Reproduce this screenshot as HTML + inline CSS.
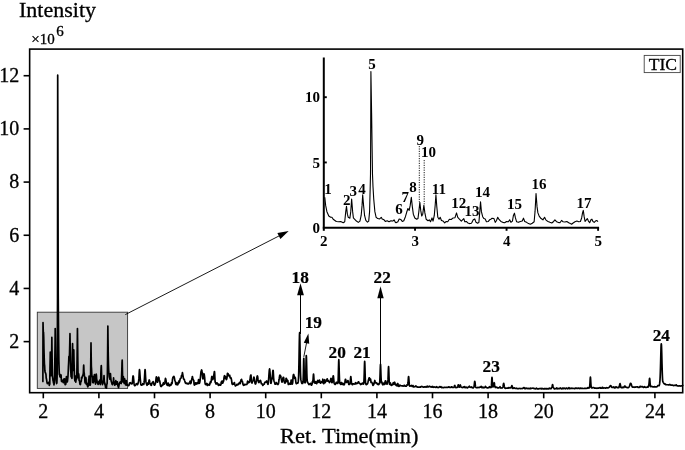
<!DOCTYPE html>
<html><head><meta charset="utf-8"><title>TIC chromatogram</title>
<style>html,body{margin:0;padding:0;background:#fff}svg{display:block}</style></head>
<body>
<svg width="685" height="450" viewBox="0 0 685 450">
<rect width="685" height="450" fill="#fff"/>
<rect x="37.3" y="312.2" width="90.3" height="76.2" fill="#c6c6c6" stroke="#333" stroke-width="0.9"/>
<rect x="29.65" y="49.1" width="653.05" height="343.6" fill="none" stroke="#000" stroke-width="1.6"/>
<line x1="23.6" x2="29.8" y1="341.62" y2="341.62" stroke="#000" stroke-width="1.6"/>
<text x="19.2" y="347.92" font-size="20" text-anchor="end" font-family="'Liberation Serif', 'Times New Roman', serif" stroke="#000" stroke-width="0.3">2</text>
<line x1="23.6" x2="29.8" y1="288.44" y2="288.44" stroke="#000" stroke-width="1.6"/>
<text x="19.2" y="294.74" font-size="20" text-anchor="end" font-family="'Liberation Serif', 'Times New Roman', serif" stroke="#000" stroke-width="0.3">4</text>
<line x1="23.6" x2="29.8" y1="235.26" y2="235.26" stroke="#000" stroke-width="1.6"/>
<text x="19.2" y="241.56" font-size="20" text-anchor="end" font-family="'Liberation Serif', 'Times New Roman', serif" stroke="#000" stroke-width="0.3">6</text>
<line x1="23.6" x2="29.8" y1="182.08" y2="182.08" stroke="#000" stroke-width="1.6"/>
<text x="19.2" y="188.38" font-size="20" text-anchor="end" font-family="'Liberation Serif', 'Times New Roman', serif" stroke="#000" stroke-width="0.3">8</text>
<line x1="23.6" x2="29.8" y1="128.90" y2="128.90" stroke="#000" stroke-width="1.6"/>
<text x="19.2" y="135.20" font-size="20" text-anchor="end" font-family="'Liberation Serif', 'Times New Roman', serif" stroke="#000" stroke-width="0.3">10</text>
<line x1="23.6" x2="29.8" y1="75.72" y2="75.72" stroke="#000" stroke-width="1.6"/>
<text x="19.2" y="82.02" font-size="20" text-anchor="end" font-family="'Liberation Serif', 'Times New Roman', serif" stroke="#000" stroke-width="0.3">12</text>
<line x1="43.30" x2="43.30" y1="392.7" y2="398.3" stroke="#000" stroke-width="1.6"/>
<text x="43.30" y="417.9" font-size="20" text-anchor="middle" font-family="'Liberation Serif', 'Times New Roman', serif" stroke="#000" stroke-width="0.3">2</text>
<line x1="98.90" x2="98.90" y1="392.7" y2="398.3" stroke="#000" stroke-width="1.6"/>
<text x="98.90" y="417.9" font-size="20" text-anchor="middle" font-family="'Liberation Serif', 'Times New Roman', serif" stroke="#000" stroke-width="0.3">4</text>
<line x1="154.50" x2="154.50" y1="392.7" y2="398.3" stroke="#000" stroke-width="1.6"/>
<text x="154.50" y="417.9" font-size="20" text-anchor="middle" font-family="'Liberation Serif', 'Times New Roman', serif" stroke="#000" stroke-width="0.3">6</text>
<line x1="210.10" x2="210.10" y1="392.7" y2="398.3" stroke="#000" stroke-width="1.6"/>
<text x="210.10" y="417.9" font-size="20" text-anchor="middle" font-family="'Liberation Serif', 'Times New Roman', serif" stroke="#000" stroke-width="0.3">8</text>
<line x1="265.70" x2="265.70" y1="392.7" y2="398.3" stroke="#000" stroke-width="1.6"/>
<text x="265.70" y="417.9" font-size="20" text-anchor="middle" font-family="'Liberation Serif', 'Times New Roman', serif" stroke="#000" stroke-width="0.3">10</text>
<line x1="321.30" x2="321.30" y1="392.7" y2="398.3" stroke="#000" stroke-width="1.6"/>
<text x="321.30" y="417.9" font-size="20" text-anchor="middle" font-family="'Liberation Serif', 'Times New Roman', serif" stroke="#000" stroke-width="0.3">12</text>
<line x1="376.90" x2="376.90" y1="392.7" y2="398.3" stroke="#000" stroke-width="1.6"/>
<text x="376.90" y="417.9" font-size="20" text-anchor="middle" font-family="'Liberation Serif', 'Times New Roman', serif" stroke="#000" stroke-width="0.3">14</text>
<line x1="432.50" x2="432.50" y1="392.7" y2="398.3" stroke="#000" stroke-width="1.6"/>
<text x="432.50" y="417.9" font-size="20" text-anchor="middle" font-family="'Liberation Serif', 'Times New Roman', serif" stroke="#000" stroke-width="0.3">16</text>
<line x1="488.10" x2="488.10" y1="392.7" y2="398.3" stroke="#000" stroke-width="1.6"/>
<text x="488.10" y="417.9" font-size="20" text-anchor="middle" font-family="'Liberation Serif', 'Times New Roman', serif" stroke="#000" stroke-width="0.3">18</text>
<line x1="543.70" x2="543.70" y1="392.7" y2="398.3" stroke="#000" stroke-width="1.6"/>
<text x="543.70" y="417.9" font-size="20" text-anchor="middle" font-family="'Liberation Serif', 'Times New Roman', serif" stroke="#000" stroke-width="0.3">20</text>
<line x1="599.30" x2="599.30" y1="392.7" y2="398.3" stroke="#000" stroke-width="1.6"/>
<text x="599.30" y="417.9" font-size="20" text-anchor="middle" font-family="'Liberation Serif', 'Times New Roman', serif" stroke="#000" stroke-width="0.3">22</text>
<line x1="654.90" x2="654.90" y1="392.7" y2="398.3" stroke="#000" stroke-width="1.6"/>
<text x="654.90" y="417.9" font-size="20" text-anchor="middle" font-family="'Liberation Serif', 'Times New Roman', serif" stroke="#000" stroke-width="0.3">24</text>
<text x="19.0" y="16.7" font-size="21.5" textLength="77" lengthAdjust="spacingAndGlyphs" font-family="'Liberation Serif', 'Times New Roman', serif" stroke="#000" stroke-width="0.3">Intensity</text>
<text x="31.2" y="44" font-size="15" font-family="'Liberation Serif', 'Times New Roman', serif" stroke="#000" stroke-width="0.3">×10</text>
<text x="56.2" y="36.1" font-size="15" font-family="'Liberation Serif', 'Times New Roman', serif" stroke="#000" stroke-width="0.3">6</text>
<text x="280.1" y="443.2" font-size="21.5" textLength="138.3" lengthAdjust="spacingAndGlyphs" font-family="'Liberation Serif', 'Times New Roman', serif" stroke="#000" stroke-width="0.3">Ret. Time(min)</text>
<rect x="644.2" y="55.4" width="36" height="17.2" fill="#fff" stroke="#444" stroke-width="0.9"/>
<text x="662.9" y="69.5" font-size="17.6" text-anchor="middle" font-family="'Liberation Serif', 'Times New Roman', serif" stroke="#000" stroke-width="0.3">TIC</text>
<path d="M42.88,381.50 L43.02,322.48 L43.30,333.25 L43.52,332.33 L43.74,337.70 L43.97,349.47 L44.19,357.86 L44.41,363.87 L44.63,365.59 L44.86,370.43 L45.08,372.12 L45.30,372.49 L45.52,372.95 L45.75,373.88 L45.97,374.47 L46.19,377.93 L46.41,378.77 L46.64,379.89 L46.86,381.67 L47.08,382.87 L47.30,383.58 L47.53,382.62 L47.75,382.71 L47.97,382.96 L48.19,382.45 L48.42,383.37 L48.64,382.63 L48.86,383.12 L49.08,383.45 L49.30,385.36 L49.53,384.02 L49.75,384.29 L49.97,368.31 L50.19,357.69 L50.28,352.03 L50.42,360.82 L50.64,368.76 L50.86,375.77 L51.08,374.17 L51.31,375.34 L51.53,365.20 L51.75,345.79 L51.85,337.42 L51.97,347.27 L52.20,364.09 L52.42,375.58 L52.64,377.51 L52.86,379.06 L53.09,380.84 L53.31,381.54 L53.53,383.12 L53.75,382.62 L53.98,384.92 L54.20,383.17 L54.42,380.51 L54.64,374.77 L54.86,359.40 L55.09,343.15 L55.20,328.60 L55.31,337.17 L55.53,354.40 L55.75,367.43 L55.98,377.02 L56.20,379.62 L56.42,382.53 L56.64,383.55 L56.87,382.87 L57.09,376.92 L57.31,360.20 L57.53,298.70 L57.70,75.19 L57.76,102.60 L57.98,192.56 L58.20,292.46 L58.42,321.03 L58.65,342.86 L58.87,360.41 L59.09,367.88 L59.31,374.38 L59.54,373.83 L59.76,376.11 L59.98,376.82 L60.20,377.13 L60.42,376.81 L60.65,375.31 L60.87,374.85 L61.09,375.25 L61.31,379.29 L61.54,381.33 L61.76,379.66 L61.98,381.60 L62.20,381.54 L62.43,381.41 L62.65,380.85 L62.87,381.25 L63.09,381.53 L63.32,382.70 L63.54,381.85 L63.76,379.22 L63.98,380.53 L64.21,382.04 L64.43,379.10 L64.65,378.86 L64.87,381.21 L65.10,384.64 L65.32,384.49 L65.54,384.63 L65.76,384.02 L65.98,382.39 L66.21,378.51 L66.43,376.58 L66.65,378.26 L66.87,380.24 L67.10,380.52 L67.32,381.85 L67.54,380.49 L67.76,378.43 L67.99,375.88 L68.21,372.03 L68.43,366.78 L68.65,362.79 L68.88,356.92 L68.94,356.32 L69.10,356.58 L69.32,359.75 L69.54,352.83 L69.77,343.45 L69.97,333.64 L69.99,334.93 L70.21,348.80 L70.43,360.39 L70.66,369.40 L70.88,372.77 L71.10,376.64 L71.32,376.09 L71.54,377.31 L71.77,378.05 L71.99,378.23 L72.21,364.98 L72.43,350.73 L72.57,343.72 L72.66,349.69 L72.88,362.06 L73.10,370.44 L73.32,368.47 L73.55,362.87 L73.77,349.87 L73.79,350.02 L73.99,360.28 L74.21,368.33 L74.44,376.43 L74.66,378.82 L74.88,381.00 L75.10,380.96 L75.33,379.59 L75.55,379.61 L75.77,382.16 L75.99,380.18 L76.22,375.60 L76.44,377.93 L76.66,378.85 L76.88,372.44 L77.10,358.66 L77.33,338.82 L77.45,328.60 L77.55,337.15 L77.77,357.22 L77.99,371.87 L78.22,376.21 L78.44,377.81 L78.66,373.76 L78.88,375.54 L79.11,380.47 L79.33,380.64 L79.55,380.87 L79.77,383.14 L80.00,384.43 L80.22,384.03 L80.44,384.51 L80.66,382.05 L80.89,381.96 L81.11,381.52 L81.33,380.72 L81.55,377.42 L81.78,378.56 L82.00,377.61 L82.22,377.03 L82.44,376.16 L82.66,375.76 L82.89,375.40 L83.11,374.05 L83.33,373.44 L83.55,367.65 L83.70,365.14 L83.78,366.36 L84.00,372.16 L84.22,373.02 L84.44,376.57 L84.67,376.53 L84.89,381.33 L85.11,382.99 L85.33,379.44 L85.56,378.24 L85.78,377.52 L86.00,378.28 L86.22,384.23 L86.45,382.96 L86.67,383.04 L86.89,383.82 L87.11,384.41 L87.34,385.72 L87.56,386.04 L87.78,386.87 L88.00,386.36 L88.22,385.44 L88.45,383.62 L88.67,379.43 L88.89,379.20 L89.11,376.13 L89.34,379.62 L89.56,381.98 L89.78,385.16 L90.00,384.03 L90.23,385.15 L90.45,383.90 L90.67,369.62 L90.89,352.07 L91.00,342.96 L91.12,352.39 L91.34,366.07 L91.56,369.39 L91.78,374.52 L92.01,376.65 L92.23,376.81 L92.45,376.19 L92.67,382.40 L92.90,382.42 L93.12,382.74 L93.34,381.80 L93.56,381.90 L93.78,379.09 L94.01,377.36 L94.23,375.84 L94.45,374.63 L94.67,376.53 L94.90,376.10 L95.12,377.32 L95.34,382.76 L95.56,384.07 L95.79,380.10 L96.01,377.17 L96.23,374.09 L96.45,375.51 L96.68,379.48 L96.90,379.84 L97.12,381.83 L97.34,382.78 L97.57,383.03 L97.79,383.90 L98.01,384.12 L98.23,384.42 L98.46,382.59 L98.68,383.40 L98.90,381.41 L99.12,381.93 L99.34,382.89 L99.57,381.03 L99.79,380.13 L100.01,380.23 L100.23,384.57 L100.46,383.08 L100.68,381.21 L100.90,372.58 L101.12,367.28 L101.29,365.64 L101.35,366.50 L101.57,374.39 L101.79,380.18 L102.01,382.44 L102.24,383.13 L102.46,384.62 L102.68,382.68 L102.90,382.61 L103.13,382.92 L103.35,381.51 L103.57,382.62 L103.79,380.06 L104.02,375.64 L104.24,380.32 L104.46,382.31 L104.68,384.10 L104.90,383.13 L105.13,385.16 L105.35,385.42 L105.57,387.73 L105.79,387.30 L106.02,386.76 L106.24,387.05 L106.46,388.09 L106.68,385.10 L106.91,383.98 L107.13,383.81 L107.35,376.09 L107.57,359.95 L107.80,332.40 L107.85,326.08 L108.02,339.45 L108.24,355.31 L108.46,364.64 L108.69,370.22 L108.91,373.66 L109.13,373.90 L109.35,377.32 L109.58,377.37 L109.80,379.27 L110.02,377.33 L110.24,375.27 L110.46,373.69 L110.69,377.07 L110.91,379.35 L111.13,380.85 L111.35,381.41 L111.58,382.29 L111.80,382.81 L112.02,384.21 L112.24,382.88 L112.47,384.66 L112.69,383.82 L112.91,382.69 L113.13,383.27 L113.36,382.23 L113.58,377.96 L113.80,380.89 L114.02,382.22 L114.25,383.38 L114.47,383.69 L114.69,385.13 L114.91,384.56 L115.14,384.87 L115.36,382.47 L115.58,382.27 L115.80,380.62 L116.02,382.24 L116.25,384.26 L116.47,383.66 L116.69,383.09 L116.91,382.22 L117.14,382.33 L117.36,381.78 L117.58,383.85 L117.80,385.63 L118.03,386.17 L118.25,385.83 L118.47,387.66 L118.69,386.90 L118.92,385.52 L119.14,384.66 L119.36,383.34 L119.58,383.30 L119.81,382.45 L120.03,382.43 L120.25,381.95 L120.47,383.17 L120.70,382.86 L120.92,383.48 L121.14,383.54 L121.36,381.39 L121.58,377.01 L121.81,371.55 L122.03,362.64 L122.20,360.10 L122.25,361.56 L122.47,371.96 L122.70,381.30 L122.92,381.81 L123.14,378.26 L123.36,376.62 L123.59,378.23 L123.81,381.49 L124.03,382.74 L124.25,383.33 L124.48,379.17 L124.70,378.92 L124.92,380.81 L125.14,382.59 L125.37,382.07 L125.59,384.86 L125.81,381.24 L126.03,381.55 L126.26,380.59 L126.48,381.45 L126.70,385.19 L126.84,385.01 L126.98,384.73 L127.12,384.45 L127.26,384.52 L127.40,384.82 L127.53,385.13 L127.67,385.21 L127.81,385.28 L127.95,385.34 L128.09,385.41 L128.23,385.48 L128.37,385.55 L128.51,385.61 L128.65,385.60 L128.79,385.45 L128.92,385.30 L129.06,385.15 L129.20,384.58 L129.34,383.86 L129.48,383.13 L129.62,382.90 L129.76,383.01 L129.90,383.11 L130.04,383.16 L130.18,383.02 L130.31,382.88 L130.45,382.73 L130.59,382.93 L130.73,383.21 L130.87,383.48 L131.01,383.64 L131.15,383.64 L131.29,383.62 L131.43,383.58 L131.56,383.79 L131.70,383.94 L131.84,384.00 L131.98,383.99 L132.12,383.65 L132.26,383.13 L132.40,382.34 L132.54,381.01 L132.68,379.41 L132.82,377.40 L132.95,376.39 L133.09,375.98 L133.23,376.03 L133.37,376.68 L133.51,377.91 L133.65,379.24 L133.79,380.56 L133.93,382.60 L134.07,383.68 L134.21,384.56 L134.35,385.11 L134.48,385.42 L134.62,385.64 L134.76,385.75 L134.90,385.66 L135.04,385.55 L135.18,385.42 L135.32,385.30 L135.46,385.18 L135.60,385.05 L135.74,384.93 L135.87,384.57 L136.01,384.15 L136.15,383.74 L136.29,383.75 L136.43,383.76 L136.57,383.77 L136.71,383.71 L136.85,383.60 L136.99,383.50 L137.12,383.49 L137.26,383.90 L137.40,384.30 L137.54,384.70 L137.68,384.45 L137.82,384.02 L137.96,383.56 L138.10,383.16 L138.24,382.87 L138.38,382.38 L138.51,381.63 L138.65,380.80 L138.79,379.62 L138.93,378.13 L139.07,375.78 L139.21,373.08 L139.35,370.87 L139.49,369.70 L139.63,370.41 L139.77,371.92 L139.90,373.92 L140.04,375.93 L140.18,377.77 L140.32,379.31 L140.46,380.83 L140.60,382.52 L140.74,383.94 L140.88,384.57 L141.02,384.83 L141.16,385.02 L141.30,385.16 L141.43,385.20 L141.57,385.17 L141.71,385.13 L141.85,385.08 L141.99,384.99 L142.13,384.91 L142.27,384.82 L142.41,384.61 L142.55,384.20 L142.69,383.80 L142.82,383.62 L142.96,383.78 L143.10,383.93 L143.24,384.07 L143.38,384.47 L143.52,384.52 L143.66,384.46 L143.80,384.22 L143.94,383.74 L144.07,382.94 L144.21,381.70 L144.35,379.88 L144.49,377.69 L144.63,375.34 L144.77,373.08 L144.91,370.93 L145.05,369.65 L145.19,370.04 L145.33,372.22 L145.46,374.97 L145.60,377.49 L145.74,379.46 L145.88,381.02 L146.02,381.99 L146.16,382.76 L146.30,383.35 L146.44,383.72 L146.58,384.10 L146.72,384.64 L146.85,384.96 L146.99,385.24 L147.13,385.14 L147.27,384.94 L147.41,384.72 L147.55,384.27 L147.69,383.80 L147.83,383.31 L147.97,382.76 L148.11,383.95 L148.25,384.24 L148.38,384.19 L148.52,383.64 L148.66,382.74 L148.80,381.78 L148.94,380.89 L149.08,380.27 L149.22,380.00 L149.36,380.13 L149.50,380.71 L149.63,381.53 L149.77,382.41 L149.91,383.14 L150.05,383.61 L150.19,383.86 L150.33,383.66 L150.47,384.19 L150.61,384.64 L150.75,384.81 L150.89,384.99 L151.03,385.17 L151.16,385.35 L151.30,385.43 L151.44,385.13 L151.58,384.83 L151.72,383.83 L151.86,383.42 L152.00,383.17 L152.14,382.92 L152.28,382.69 L152.41,382.50 L152.55,382.31 L152.69,382.12 L152.83,381.96 L152.97,381.81 L153.11,381.65 L153.25,381.91 L153.39,382.46 L153.53,383.00 L153.67,383.53 L153.81,383.99 L153.94,384.45 L154.08,384.79 L154.22,384.93 L154.36,385.07 L154.50,385.19 L154.64,385.15 L154.78,384.87 L154.92,384.55 L155.06,384.06 L155.19,383.95 L155.33,383.60 L155.47,383.04 L155.61,382.23 L155.75,381.19 L155.89,379.99 L156.03,378.78 L156.17,377.76 L156.31,377.06 L156.45,376.87 L156.59,377.13 L156.72,377.86 L156.86,378.91 L157.00,380.03 L157.14,381.00 L157.28,381.75 L157.42,382.17 L157.56,382.20 L157.70,381.82 L157.84,380.68 L157.97,380.38 L158.11,379.70 L158.25,378.95 L158.39,378.21 L158.53,377.43 L158.67,377.15 L158.81,377.43 L158.95,377.96 L159.09,378.77 L159.23,379.72 L159.37,380.54 L159.50,380.90 L159.64,381.06 L159.78,380.99 L159.92,382.10 L160.06,383.06 L160.20,383.91 L160.34,384.72 L160.48,385.26 L160.62,385.77 L160.75,386.20 L160.89,386.30 L161.03,386.40 L161.17,386.50 L161.31,386.21 L161.45,385.83 L161.59,385.44 L161.73,385.24 L161.87,385.32 L162.01,385.39 L162.15,385.47 L162.28,385.49 L162.42,385.51 L162.56,385.53 L162.70,385.32 L162.84,384.99 L162.98,384.35 L163.12,383.42 L163.26,383.18 L163.40,382.94 L163.54,382.70 L163.67,383.01 L163.81,383.46 L163.95,383.90 L164.09,384.16 L164.23,384.14 L164.37,384.08 L164.51,383.97 L164.65,383.49 L164.79,382.89 L164.93,382.19 L165.06,381.24 L165.20,380.16 L165.34,379.11 L165.48,378.40 L165.62,378.65 L165.76,379.19 L165.90,379.99 L166.04,380.77 L166.18,381.57 L166.31,382.32 L166.45,383.01 L166.59,383.65 L166.73,384.19 L166.87,384.57 L167.01,384.89 L167.15,385.18 L167.29,385.44 L167.43,385.34 L167.57,385.00 L167.70,384.40 L167.84,383.44 L167.98,383.32 L168.12,383.19 L168.26,383.06 L168.40,383.48 L168.54,384.03 L168.68,384.58 L168.82,384.96 L168.96,385.30 L169.10,385.65 L169.23,385.98 L169.37,385.79 L169.51,385.59 L169.65,385.40 L169.79,385.19 L169.93,385.00 L170.07,384.79 L170.21,384.57 L170.35,384.95 L170.49,385.21 L170.62,385.48 L170.76,385.34 L170.90,385.10 L171.04,384.84 L171.18,384.59 L171.32,384.05 L171.46,383.33 L171.60,382.61 L171.74,383.08 L171.88,383.50 L172.01,383.65 L172.15,383.10 L172.29,381.57 L172.43,379.96 L172.57,378.55 L172.71,378.17 L172.85,377.75 L172.99,377.32 L173.13,377.06 L173.26,376.92 L173.40,376.91 L173.54,376.80 L173.68,376.50 L173.82,376.42 L173.96,376.53 L174.10,376.85 L174.24,377.30 L174.38,377.82 L174.52,378.53 L174.65,379.34 L174.79,380.11 L174.93,380.75 L175.07,381.04 L175.21,381.25 L175.35,381.38 L175.49,382.25 L175.63,383.27 L175.77,384.16 L175.91,384.41 L176.05,384.48 L176.18,384.52 L176.32,384.54 L176.46,384.22 L176.60,383.60 L176.74,382.97 L176.88,383.02 L177.02,383.52 L177.16,384.01 L177.30,384.47 L177.44,384.58 L177.57,384.68 L177.71,384.78 L177.85,384.55 L177.99,384.04 L178.13,383.08 L178.27,382.36 L178.41,382.00 L178.55,381.59 L178.69,381.13 L178.82,381.94 L178.96,382.69 L179.10,382.79 L179.24,382.56 L179.38,382.20 L179.52,381.82 L179.66,381.34 L179.80,380.59 L179.94,379.88 L180.08,379.24 L180.21,378.80 L180.35,378.50 L180.49,378.32 L180.63,378.22 L180.77,378.19 L180.91,378.16 L181.05,378.09 L181.19,377.46 L181.33,376.65 L181.47,375.73 L181.61,375.49 L181.74,375.68 L181.88,375.81 L182.02,375.46 L182.16,374.54 L182.30,373.51 L182.44,372.66 L182.58,373.25 L182.72,374.34 L182.86,375.04 L183.00,375.82 L183.13,376.55 L183.27,377.38 L183.41,378.27 L183.55,378.94 L183.69,379.04 L183.83,379.00 L183.97,379.15 L184.11,379.39 L184.25,379.52 L184.38,379.67 L184.52,380.18 L184.66,380.62 L184.80,380.99 L184.94,381.47 L185.08,381.94 L185.22,382.38 L185.36,382.72 L185.50,382.96 L185.64,383.18 L185.77,383.40 L185.91,383.40 L186.05,383.39 L186.19,383.38 L186.33,383.32 L186.47,383.21 L186.61,383.11 L186.75,383.08 L186.89,383.38 L187.03,383.68 L187.17,383.97 L187.30,383.93 L187.44,383.81 L187.58,383.69 L187.72,383.58 L187.86,383.49 L188.00,383.40 L188.14,383.31 L188.28,383.53 L188.42,383.74 L188.56,383.95 L188.69,383.88 L188.83,383.63 L188.97,383.37 L189.11,383.14 L189.25,382.99 L189.39,382.84 L189.53,382.68 L189.67,382.25 L189.81,381.74 L189.94,381.22 L190.08,381.20 L190.22,381.94 L190.36,382.64 L190.50,383.25 L190.64,383.53 L190.78,383.39 L190.92,383.18 L191.06,382.76 L191.20,382.18 L191.33,381.54 L191.47,380.85 L191.61,380.06 L191.75,379.30 L191.89,378.61 L192.03,377.97 L192.17,377.23 L192.31,376.68 L192.45,376.66 L192.59,377.33 L192.73,378.15 L192.86,379.07 L193.00,379.25 L193.14,379.45 L193.28,379.63 L193.42,379.85 L193.56,380.06 L193.70,380.22 L193.84,380.72 L193.98,382.93 L194.12,384.13 L194.25,384.90 L194.39,385.06 L194.53,385.04 L194.67,384.99 L194.81,384.86 L194.95,384.63 L195.09,384.33 L195.23,383.43 L195.37,383.23 L195.50,383.02 L195.64,382.80 L195.78,382.82 L195.92,383.00 L196.06,383.17 L196.20,383.36 L196.34,383.61 L196.48,383.85 L196.62,384.10 L196.76,383.81 L196.90,383.39 L197.03,382.97 L197.17,382.78 L197.31,382.95 L197.45,383.11 L197.59,383.28 L197.73,383.37 L197.87,383.45 L198.01,383.53 L198.15,382.85 L198.29,381.67 L198.42,380.47 L198.56,379.66 L198.70,380.41 L198.84,381.13 L198.98,381.83 L199.12,382.39 L199.26,382.86 L199.40,383.28 L199.54,383.10 L199.68,382.61 L199.81,381.97 L199.95,381.10 L200.09,380.15 L200.23,379.02 L200.37,377.74 L200.51,376.49 L200.65,375.18 L200.79,373.76 L200.93,372.46 L201.06,371.51 L201.20,370.82 L201.34,370.48 L201.48,370.06 L201.62,369.94 L201.76,370.24 L201.90,370.91 L202.04,371.53 L202.18,372.06 L202.32,372.60 L202.45,374.76 L202.59,376.74 L202.73,378.15 L202.87,378.77 L203.01,378.93 L203.15,378.69 L203.29,377.96 L203.43,376.85 L203.57,375.68 L203.71,374.54 L203.85,373.99 L203.98,373.84 L204.12,374.02 L204.26,374.63 L204.40,375.63 L204.54,376.76 L204.68,377.91 L204.82,380.31 L204.96,382.13 L205.10,383.24 L205.24,383.89 L205.37,384.20 L205.51,384.40 L205.65,384.52 L205.79,384.57 L205.93,384.58 L206.07,384.57 L206.21,384.45 L206.35,384.30 L206.49,383.75 L206.62,383.44 L206.76,383.55 L206.90,383.65 L207.04,383.76 L207.18,384.62 L207.32,385.05 L207.46,385.48 L207.60,385.44 L207.74,385.08 L207.88,384.73 L208.02,384.48 L208.15,384.64 L208.29,384.80 L208.43,384.96 L208.57,384.86 L208.71,384.70 L208.85,384.53 L208.99,384.50 L209.13,384.68 L209.27,384.85 L209.40,385.03 L209.54,384.79 L209.68,384.54 L209.82,384.19 L209.96,383.51 L210.10,382.89 L210.24,382.24 L210.38,381.78 L210.52,382.15 L210.66,382.45 L210.80,382.65 L210.93,382.25 L211.07,381.60 L211.21,380.81 L211.35,379.85 L211.49,378.72 L211.63,377.62 L211.77,376.63 L211.91,376.44 L212.05,376.56 L212.19,377.00 L212.32,377.56 L212.46,378.21 L212.60,378.97 L212.74,379.60 L212.88,379.49 L213.02,379.18 L213.16,378.58 L213.30,378.40 L213.44,378.00 L213.57,377.21 L213.71,376.16 L213.85,375.03 L213.99,373.98 L214.13,373.33 L214.27,372.06 L214.41,371.57 L214.55,371.76 L214.69,373.72 L214.83,376.71 L214.97,379.59 L215.10,381.74 L215.24,382.38 L215.38,382.61 L215.52,382.62 L215.66,383.03 L215.80,383.48 L215.94,383.88 L216.08,384.07 L216.22,383.98 L216.36,383.89 L216.49,383.79 L216.63,383.52 L216.77,383.25 L216.91,382.95 L217.05,382.93 L217.19,383.06 L217.33,383.20 L217.47,383.33 L217.61,383.47 L217.75,383.60 L217.88,383.73 L218.02,384.48 L218.16,384.80 L218.30,385.13 L218.44,385.32 L218.58,385.32 L218.72,385.32 L218.86,385.31 L219.00,385.04 L219.13,384.75 L219.27,384.47 L219.41,384.46 L219.55,384.62 L219.69,384.78 L219.83,384.93 L219.97,385.01 L220.11,385.09 L220.25,385.17 L220.39,385.15 L220.52,385.10 L220.66,385.05 L220.80,384.86 L220.94,384.45 L221.08,383.53 L221.22,382.19 L221.36,381.96 L221.50,381.71 L221.64,381.45 L221.78,381.29 L221.92,381.19 L222.05,381.06 L222.19,381.11 L222.33,381.97 L222.47,382.80 L222.61,383.21 L222.75,382.99 L222.89,382.68 L223.03,382.33 L223.17,381.99 L223.31,381.67 L223.44,381.32 L223.58,380.98 L223.72,380.29 L223.86,379.18 L224.00,377.86 L224.14,376.95 L224.28,376.35 L224.42,375.82 L224.56,375.62 L224.69,376.47 L224.83,377.41 L224.97,378.40 L225.11,378.10 L225.25,377.49 L225.39,376.89 L225.53,376.67 L225.67,377.02 L225.81,377.30 L225.95,377.50 L226.08,378.39 L226.22,379.16 L226.36,379.60 L226.50,379.41 L226.64,379.08 L226.78,378.66 L226.92,378.04 L227.06,376.91 L227.20,375.77 L227.34,373.95 L227.48,373.43 L227.61,373.39 L227.75,373.52 L227.89,373.51 L228.03,373.66 L228.17,373.99 L228.31,374.46 L228.45,374.78 L228.59,375.16 L228.73,375.53 L228.87,375.86 L229.00,375.96 L229.14,375.97 L229.28,375.89 L229.42,375.75 L229.56,375.56 L229.70,375.34 L229.84,376.04 L229.98,377.03 L230.12,377.54 L230.25,377.91 L230.39,378.08 L230.53,377.87 L230.67,377.61 L230.81,377.78 L230.95,377.95 L231.09,378.10 L231.23,378.59 L231.37,379.28 L231.51,379.90 L231.65,380.61 L231.78,381.84 L231.92,383.01 L232.06,383.79 L232.20,384.06 L232.34,384.25 L232.48,384.41 L232.62,384.44 L232.76,384.27 L232.90,383.98 L233.03,383.28 L233.17,383.55 L233.31,383.81 L233.45,384.07 L233.59,384.15 L233.73,384.11 L233.87,384.07 L234.01,383.94 L234.15,383.50 L234.29,383.05 L234.43,382.60 L234.56,383.30 L234.70,384.29 L234.84,384.61 L234.98,384.91 L235.12,385.23 L235.26,385.54 L235.40,385.86 L235.54,385.70 L235.68,385.56 L235.81,385.40 L235.95,385.37 L236.09,385.43 L236.23,385.48 L236.37,385.45 L236.51,385.11 L236.65,384.77 L236.79,384.42 L236.93,384.29 L237.07,384.31 L237.20,384.33 L237.34,384.43 L237.48,384.57 L237.62,384.70 L237.76,384.84 L237.90,384.74 L238.04,384.65 L238.18,384.55 L238.32,384.43 L238.46,384.10 L238.60,383.67 L238.73,383.34 L238.87,383.44 L239.01,383.54 L239.15,383.67 L239.29,383.38 L239.43,382.99 L239.57,382.59 L239.71,382.50 L239.85,382.89 L239.98,383.28 L240.12,383.65 L240.26,383.17 L240.40,382.67 L240.54,382.14 L240.68,381.62 L240.82,381.06 L240.96,380.45 L241.10,379.90 L241.24,379.74 L241.38,379.53 L241.51,379.29 L241.65,379.70 L241.79,380.33 L241.93,381.06 L242.07,381.28 L242.21,381.31 L242.35,381.50 L242.49,381.70 L242.63,382.53 L242.77,383.28 L242.90,384.01 L243.04,384.49 L243.18,384.78 L243.32,385.01 L243.46,385.18 L243.60,385.28 L243.74,385.34 L243.88,385.38 L244.02,385.12 L244.15,384.79 L244.29,384.45 L244.43,384.32 L244.57,384.51 L244.71,384.71 L244.85,384.90 L244.99,384.80 L245.13,384.70 L245.27,384.60 L245.41,384.55 L245.55,384.51 L245.68,384.48 L245.82,384.45 L245.96,384.45 L246.10,384.44 L246.24,384.43 L246.38,384.46 L246.52,384.50 L246.66,384.54 L246.80,384.49 L246.94,384.31 L247.07,383.78 L247.21,383.20 L247.35,382.49 L247.49,381.77 L247.63,381.05 L247.77,381.14 L247.91,381.77 L248.05,382.39 L248.19,382.87 L248.32,382.76 L248.46,382.64 L248.60,382.51 L248.74,382.31 L248.88,382.07 L249.02,381.77 L249.16,381.74 L249.30,382.13 L249.44,382.38 L249.58,382.27 L249.72,381.67 L249.85,380.90 L249.99,380.00 L250.13,378.83 L250.27,377.58 L250.41,376.49 L250.55,375.70 L250.69,375.29 L250.83,375.08 L250.97,375.14 L251.11,376.81 L251.24,378.38 L251.38,379.84 L251.52,381.06 L251.66,381.87 L251.80,382.50 L251.94,382.95 L252.08,383.07 L252.22,382.58 L252.36,381.76 L252.50,381.39 L252.63,381.29 L252.77,381.07 L252.91,380.80 L253.05,380.66 L253.19,380.40 L253.33,380.05 L253.47,379.20 L253.61,378.26 L253.75,377.43 L253.88,377.04 L254.02,377.30 L254.16,377.85 L254.30,378.67 L254.44,379.64 L254.58,380.60 L254.72,381.58 L254.86,382.41 L255.00,383.08 L255.14,383.63 L255.27,384.00 L255.41,384.04 L255.55,383.96 L255.69,383.77 L255.83,383.44 L255.97,382.97 L256.11,381.94 L256.25,381.18 L256.39,381.05 L256.53,380.41 L256.67,379.52 L256.80,378.49 L256.94,377.48 L257.08,376.65 L257.22,376.06 L257.36,375.85 L257.50,376.09 L257.64,376.73 L257.78,377.71 L257.92,378.83 L258.06,379.97 L258.19,380.85 L258.33,381.52 L258.47,381.98 L258.61,382.29 L258.75,382.52 L258.89,382.57 L259.03,382.48 L259.17,382.13 L259.31,381.70 L259.44,381.25 L259.58,381.00 L259.72,380.92 L259.86,380.91 L260.00,380.90 L260.14,380.58 L260.28,380.38 L260.42,380.30 L260.56,380.62 L260.70,381.09 L260.83,381.60 L260.97,382.15 L261.11,382.71 L261.25,383.25 L261.39,383.74 L261.53,383.73 L261.67,383.68 L261.81,383.57 L261.95,383.69 L262.09,383.95 L262.23,384.17 L262.36,384.41 L262.50,384.75 L262.64,385.08 L262.78,385.39 L262.92,385.32 L263.06,385.15 L263.20,384.98 L263.34,384.79 L263.48,384.59 L263.62,384.38 L263.75,384.17 L263.89,384.19 L264.03,384.21 L264.17,384.23 L264.31,384.10 L264.45,383.54 L264.59,382.98 L264.73,382.49 L264.87,382.34 L265.01,382.18 L265.14,382.02 L265.28,382.04 L265.42,382.10 L265.56,382.16 L265.70,382.20 L265.84,382.23 L265.98,382.25 L266.12,382.27 L266.26,381.85 L266.40,381.43 L266.53,381.00 L266.67,380.97 L266.81,381.20 L266.95,381.43 L267.09,381.71 L267.23,382.21 L267.37,382.71 L267.51,383.19 L267.65,383.92 L267.78,384.14 L267.92,384.34 L268.06,384.22 L268.20,383.62 L268.34,382.58 L268.48,380.71 L268.62,379.36 L268.76,377.59 L268.90,375.35 L269.04,373.44 L269.18,371.84 L269.31,370.42 L269.45,369.45 L269.59,368.84 L269.73,369.40 L269.87,370.98 L270.01,372.59 L270.15,374.24 L270.29,375.71 L270.43,377.61 L270.56,380.29 L270.70,382.29 L270.84,383.27 L270.98,383.33 L271.12,383.12 L271.26,382.25 L271.40,381.32 L271.54,380.28 L271.68,379.09 L271.82,378.12 L271.96,378.58 L272.09,378.78 L272.23,378.71 L272.37,376.99 L272.51,374.87 L272.65,372.93 L272.79,371.40 L272.93,370.50 L273.07,370.31 L273.21,370.75 L273.35,372.97 L273.48,375.37 L273.62,377.73 L273.76,379.35 L273.90,380.33 L274.04,381.03 L274.18,381.51 L274.32,381.87 L274.46,382.10 L274.60,382.23 L274.73,382.95 L274.87,383.80 L275.01,384.10 L275.15,384.25 L275.29,384.19 L275.43,384.14 L275.57,384.09 L275.71,383.99 L275.85,383.70 L275.99,383.35 L276.12,383.09 L276.26,382.88 L276.40,382.68 L276.54,382.60 L276.68,383.00 L276.82,383.39 L276.96,383.79 L277.10,384.01 L277.24,384.09 L277.38,384.17 L277.52,384.25 L277.65,384.34 L277.79,384.42 L277.93,384.50 L278.07,384.31 L278.21,384.10 L278.35,383.84 L278.49,383.46 L278.63,382.70 L278.77,381.55 L278.91,380.38 L279.04,379.77 L279.18,378.93 L279.32,377.94 L279.46,377.05 L279.60,376.00 L279.74,375.32 L279.88,375.06 L280.02,375.24 L280.16,375.96 L280.30,377.03 L280.43,376.89 L280.57,376.54 L280.71,376.01 L280.85,376.45 L280.99,377.42 L281.13,378.15 L281.27,378.76 L281.41,379.60 L281.55,380.30 L281.69,380.91 L281.82,381.86 L281.96,382.04 L282.10,382.06 L282.24,381.77 L282.38,381.03 L282.52,380.34 L282.66,379.24 L282.80,378.62 L282.94,378.11 L283.07,377.72 L283.21,377.48 L283.35,377.35 L283.49,377.31 L283.63,377.50 L283.77,378.50 L283.91,379.49 L284.05,380.46 L284.19,381.20 L284.33,381.85 L284.47,382.43 L284.60,382.84 L284.74,383.00 L284.88,383.06 L285.02,382.95 L285.16,382.93 L285.30,382.80 L285.44,382.56 L285.58,381.87 L285.72,380.90 L285.86,379.95 L285.99,378.56 L286.13,378.29 L286.27,378.26 L286.41,378.49 L286.55,379.14 L286.69,379.99 L286.83,380.73 L286.97,381.32 L287.11,381.06 L287.25,380.61 L287.38,380.06 L287.52,380.28 L287.66,380.41 L287.80,380.47 L287.94,381.42 L288.08,382.96 L288.22,384.06 L288.36,384.44 L288.50,384.43 L288.63,384.38 L288.77,384.36 L288.91,384.22 L289.05,384.05 L289.19,383.69 L289.33,383.33 L289.47,383.34 L289.61,383.33 L289.75,383.33 L289.89,383.71 L290.02,384.00 L290.16,384.11 L290.30,384.14 L290.44,384.13 L290.58,384.11 L290.72,384.01 L290.86,382.80 L291.00,381.42 L291.14,380.03 L291.28,380.09 L291.42,380.51 L291.55,380.92 L291.69,381.67 L291.83,382.92 L291.97,383.87 L292.11,384.16 L292.25,384.00 L292.39,383.75 L292.53,383.38 L292.67,382.59 L292.81,380.91 L292.94,378.62 L293.08,376.52 L293.22,375.57 L293.36,374.84 L293.50,374.48 L293.64,374.47 L293.78,374.78 L293.92,375.25 L294.06,376.02 L294.19,377.07 L294.33,377.78 L294.47,378.13 L294.61,378.36 L294.75,378.39 L294.89,378.08 L295.03,377.54 L295.17,377.31 L295.31,377.57 L295.45,378.33 L295.58,379.58 L295.72,380.91 L295.86,382.16 L296.00,382.90 L296.14,383.35 L296.28,383.60 L296.42,383.69 L296.56,383.65 L296.70,383.54 L296.84,383.38 L296.98,383.30 L297.11,383.08 L297.25,382.78 L297.39,382.90 L297.53,383.11 L297.67,383.13 L297.81,383.08 L297.95,382.79 L298.09,382.37 L298.23,381.73 L298.37,380.61 L298.50,378.53 L298.64,375.37 L298.78,370.86 L298.92,364.86 L299.06,357.31 L299.20,348.89 L299.34,340.88 L299.48,334.95 L299.62,332.69 L299.76,334.96 L299.89,341.03 L300.03,349.18 L300.17,357.72 L300.31,365.34 L300.45,371.42 L300.59,375.81 L300.73,378.32 L300.87,379.64 L301.01,380.25 L301.15,380.74 L301.28,381.45 L301.42,382.03 L301.56,382.55 L301.70,382.98 L301.84,383.22 L301.98,383.43 L302.12,383.52 L302.26,383.51 L302.40,383.48 L302.54,383.40 L302.67,383.22 L302.81,382.94 L302.95,382.38 L303.09,381.21 L303.23,378.63 L303.37,373.96 L303.51,367.41 L303.65,361.04 L303.79,358.25 L303.93,360.98 L304.06,367.34 L304.20,373.88 L304.34,378.55 L304.48,381.08 L304.62,382.19 L304.76,382.59 L304.90,382.72 L305.04,382.78 L305.18,382.69 L305.32,382.34 L305.45,381.45 L305.59,379.52 L305.73,376.02 L305.87,370.68 L306.01,364.15 L306.15,358.50 L306.29,355.63 L306.43,357.36 L306.57,362.30 L306.71,368.12 L306.84,373.43 L306.98,377.35 L307.12,379.71 L307.26,381.04 L307.40,381.82 L307.54,382.34 L307.68,382.76 L307.82,382.84 L307.96,382.81 L308.10,382.76 L308.23,383.06 L308.37,383.65 L308.51,383.92 L308.65,384.17 L308.79,384.32 L308.93,384.47 L309.07,384.61 L309.21,384.54 L309.35,384.33 L309.49,384.12 L309.62,383.95 L309.76,383.98 L309.90,384.00 L310.04,384.02 L310.18,383.91 L310.32,383.77 L310.46,383.37 L310.60,383.45 L310.74,383.96 L310.88,384.24 L311.01,384.51 L311.15,384.75 L311.29,384.99 L311.43,385.23 L311.57,385.15 L311.71,384.85 L311.85,384.55 L311.99,384.23 L312.13,383.81 L312.27,382.96 L312.40,381.62 L312.54,381.84 L312.68,382.25 L312.82,382.12 L312.96,380.95 L313.10,379.09 L313.24,376.86 L313.38,374.97 L313.52,374.02 L313.66,374.78 L313.79,376.79 L313.93,379.07 L314.07,380.93 L314.21,382.12 L314.35,382.52 L314.49,382.84 L314.63,382.96 L314.77,382.97 L314.91,383.04 L315.05,383.11 L315.18,383.17 L315.32,383.01 L315.46,382.54 L315.60,382.06 L315.74,381.58 L315.88,381.86 L316.02,382.15 L316.16,382.43 L316.30,382.75 L316.44,383.10 L316.57,383.45 L316.71,383.65 L316.85,383.26 L316.99,382.86 L317.13,382.46 L317.27,381.92 L317.41,381.35 L317.55,380.79 L317.69,380.50 L317.83,380.66 L317.96,380.81 L318.10,380.95 L318.24,381.20 L318.38,381.41 L318.52,381.55 L318.66,381.91 L318.80,382.29 L318.94,382.02 L319.08,381.32 L319.22,380.43 L319.35,380.01 L319.49,380.21 L319.63,380.70 L319.77,381.19 L319.91,381.55 L320.05,381.92 L320.19,382.48 L320.33,382.89 L320.47,383.23 L320.61,382.79 L320.74,382.33 L320.88,381.87 L321.02,381.73 L321.16,381.79 L321.30,381.85 L321.44,381.91 L321.58,381.98 L321.72,382.06 L321.86,382.13 L322.00,382.31 L322.13,382.51 L322.27,382.72 L322.41,382.42 L322.55,381.36 L322.69,380.30 L322.83,379.23 L322.97,379.76 L323.11,380.28 L323.25,380.80 L323.38,381.50 L323.52,382.32 L323.66,383.14 L323.80,383.70 L323.94,383.40 L324.08,383.06 L324.22,382.73 L324.36,381.88 L324.50,380.91 L324.64,379.93 L324.78,379.73 L324.91,380.69 L325.05,381.66 L325.19,382.62 L325.33,382.31 L325.47,381.99 L325.61,381.67 L325.75,381.43 L325.89,381.24 L326.03,380.99 L326.17,380.78 L326.30,380.99 L326.44,381.00 L326.58,380.81 L326.72,380.40 L326.86,379.64 L327.00,379.08 L327.14,378.83 L327.28,378.94 L327.42,379.49 L327.56,379.92 L327.69,380.52 L327.83,380.97 L327.97,381.21 L328.11,381.25 L328.25,381.14 L328.39,380.92 L328.53,380.76 L328.67,381.00 L328.81,381.22 L328.95,381.44 L329.08,381.76 L329.22,382.11 L329.36,382.46 L329.50,382.55 L329.64,382.27 L329.78,381.95 L329.92,381.58 L330.06,381.49 L330.20,381.25 L330.33,380.81 L330.47,380.24 L330.61,379.58 L330.75,378.91 L330.89,378.44 L331.03,378.31 L331.17,378.67 L331.31,379.40 L331.45,380.32 L331.59,381.22 L331.73,381.96 L331.86,382.44 L332.00,382.64 L332.14,382.48 L332.28,382.02 L332.42,381.96 L332.56,381.29 L332.70,380.28 L332.84,378.87 L332.98,377.37 L333.12,376.21 L333.25,375.75 L333.39,376.13 L333.53,377.22 L333.67,378.65 L333.81,380.25 L333.95,381.65 L334.09,382.73 L334.23,383.40 L334.37,383.72 L334.51,383.87 L334.64,383.93 L334.78,384.14 L334.92,384.32 L335.06,384.49 L335.20,384.45 L335.34,384.28 L335.48,384.10 L335.62,383.91 L335.76,383.67 L335.90,383.44 L336.03,382.66 L336.17,382.43 L336.31,382.34 L336.45,382.25 L336.59,382.32 L336.73,382.63 L336.87,382.94 L337.01,383.25 L337.15,383.38 L337.29,383.43 L337.42,383.47 L337.56,383.46 L337.70,383.40 L337.84,383.23 L337.98,382.67 L338.12,381.06 L338.26,377.31 L338.40,371.89 L338.54,366.40 L338.68,361.61 L338.81,359.69 L338.95,361.97 L339.09,367.10 L339.23,372.61 L339.37,376.85 L339.51,380.15 L339.65,382.21 L339.79,383.06 L339.93,383.43 L340.07,383.59 L340.20,383.71 L340.34,383.83 L340.48,384.00 L340.62,384.17 L340.76,384.32 L340.90,384.11 L341.04,383.80 L341.18,383.34 L341.32,382.68 L341.46,382.65 L341.59,382.63 L341.73,382.60 L341.87,383.66 L342.01,384.02 L342.15,384.39 L342.29,384.42 L342.43,384.22 L342.57,384.02 L342.71,383.85 L342.85,383.76 L342.98,383.68 L343.12,383.48 L343.26,383.84 L343.40,384.17 L343.54,384.50 L343.68,384.72 L343.82,384.77 L343.96,384.82 L344.10,384.85 L344.24,384.65 L344.37,384.40 L344.51,384.05 L344.65,383.58 L344.79,382.93 L344.93,382.07 L345.07,381.08 L345.21,380.18 L345.35,379.51 L345.49,379.28 L345.62,379.41 L345.76,379.93 L345.90,380.68 L346.04,381.47 L346.18,382.07 L346.32,382.33 L346.46,382.39 L346.60,382.41 L346.74,382.32 L346.88,382.18 L347.02,382.03 L347.15,381.89 L347.29,381.74 L347.43,381.55 L347.57,381.20 L347.71,380.86 L347.85,380.52 L347.99,380.77 L348.13,381.16 L348.27,381.56 L348.41,382.28 L348.54,383.47 L348.68,384.02 L348.82,384.37 L348.96,384.36 L349.10,384.35 L349.24,384.33 L349.38,384.34 L349.52,384.36 L349.66,384.36 L349.80,384.27 L349.93,383.97 L350.07,383.39 L350.21,382.38 L350.35,380.81 L350.49,378.94 L350.63,377.30 L350.77,376.58 L350.91,377.11 L351.05,378.51 L351.19,380.06 L351.32,381.50 L351.46,382.47 L351.60,383.02 L351.74,383.60 L351.88,384.01 L352.02,384.36 L352.16,384.61 L352.30,384.61 L352.44,384.61 L352.58,384.60 L352.71,384.45 L352.85,384.27 L352.99,384.08 L353.13,383.97 L353.27,383.95 L353.41,383.94 L353.55,383.92 L353.69,383.94 L353.83,383.96 L353.97,383.98 L354.10,383.99 L354.24,383.98 L354.38,383.98 L354.52,383.99 L354.66,384.03 L354.80,384.08 L354.94,384.12 L355.08,383.99 L355.22,383.64 L355.36,383.04 L355.49,382.71 L355.63,382.76 L355.77,382.80 L355.91,382.83 L356.05,383.15 L356.19,383.46 L356.33,383.70 L356.47,383.72 L356.61,383.71 L356.75,383.66 L356.88,383.58 L357.02,383.43 L357.16,383.25 L357.30,383.05 L357.44,383.03 L357.58,383.05 L357.72,383.09 L357.86,382.96 L358.00,382.58 L358.13,382.24 L358.27,382.00 L358.41,381.88 L358.55,381.84 L358.69,381.86 L358.83,382.10 L358.97,382.49 L359.11,382.89 L359.25,383.22 L359.39,383.28 L359.53,383.31 L359.66,383.31 L359.80,383.44 L359.94,383.58 L360.08,383.68 L360.22,383.84 L360.36,384.09 L360.50,384.32 L360.64,384.54 L360.78,384.46 L360.92,384.36 L361.05,384.26 L361.19,384.20 L361.33,384.15 L361.47,384.11 L361.61,384.05 L361.75,383.94 L361.89,383.67 L362.03,383.32 L362.17,383.21 L362.31,383.16 L362.44,383.10 L362.58,383.24 L362.72,383.67 L362.86,383.87 L363.00,383.96 L363.14,384.04 L363.28,384.10 L363.42,384.12 L363.56,383.93 L363.70,383.46 L363.83,382.53 L363.97,380.73 L364.11,377.65 L364.25,373.16 L364.39,367.86 L364.53,363.25 L364.67,361.32 L364.81,363.07 L364.95,367.56 L365.09,372.85 L365.22,377.35 L365.36,380.43 L365.50,382.33 L365.64,383.37 L365.78,383.94 L365.92,384.25 L366.06,384.44 L366.20,384.58 L366.34,384.65 L366.48,384.55 L366.61,384.42 L366.75,384.27 L366.89,384.22 L367.03,384.16 L367.17,384.06 L367.31,383.92 L367.45,383.73 L367.59,383.49 L367.73,383.18 L367.87,382.65 L368.00,382.06 L368.14,381.42 L368.28,380.82 L368.42,380.26 L368.56,379.72 L368.70,379.22 L368.84,378.73 L368.98,378.22 L369.12,377.86 L369.25,377.78 L369.39,377.88 L369.53,378.10 L369.67,378.52 L369.81,379.14 L369.95,379.78 L370.09,380.42 L370.23,380.03 L370.37,379.60 L370.51,379.11 L370.65,379.58 L370.78,380.68 L370.92,381.71 L371.06,382.49 L371.20,382.39 L371.34,382.25 L371.48,382.08 L371.62,382.26 L371.76,382.50 L371.90,382.74 L372.04,382.92 L372.17,383.02 L372.31,383.12 L372.45,383.22 L372.59,384.33 L372.73,384.77 L372.87,385.21 L373.01,385.31 L373.15,385.18 L373.29,385.05 L373.43,384.90 L373.56,384.69 L373.70,384.49 L373.84,384.28 L373.98,383.83 L374.12,383.35 L374.26,382.87 L374.40,382.34 L374.54,381.72 L374.68,381.10 L374.82,380.48 L374.95,381.18 L375.09,381.88 L375.23,382.59 L375.37,382.79 L375.51,382.66 L375.65,382.54 L375.79,382.47 L375.93,382.62 L376.07,382.77 L376.20,382.91 L376.34,382.94 L376.48,382.94 L376.62,382.93 L376.76,383.02 L376.90,383.27 L377.04,383.51 L377.18,383.76 L377.32,384.03 L377.46,384.29 L377.60,384.38 L377.73,384.40 L377.87,384.37 L378.01,384.33 L378.15,384.33 L378.29,384.43 L378.43,384.54 L378.57,384.63 L378.71,384.47 L378.85,384.23 L378.99,383.61 L379.12,383.38 L379.26,383.88 L379.40,383.89 L379.54,383.63 L379.68,382.57 L379.82,380.81 L379.96,377.80 L380.10,373.89 L380.24,369.63 L380.38,366.00 L380.51,364.43 L380.65,366.44 L380.79,370.18 L380.93,374.55 L381.07,377.94 L381.21,380.37 L381.35,381.94 L381.49,382.65 L381.63,382.65 L381.77,382.42 L381.90,382.09 L382.04,382.69 L382.18,383.26 L382.32,383.83 L382.46,384.32 L382.60,384.55 L382.74,384.71 L382.88,384.80 L383.02,384.68 L383.16,384.56 L383.29,384.12 L383.43,383.79 L383.57,383.49 L383.71,383.19 L383.85,383.04 L383.99,383.12 L384.13,383.20 L384.27,383.27 L384.41,383.68 L384.55,384.08 L384.68,384.48 L384.82,384.01 L384.96,382.95 L385.10,381.88 L385.24,381.02 L385.38,380.96 L385.52,380.90 L385.66,380.84 L385.80,381.46 L385.94,382.24 L386.07,383.01 L386.21,383.53 L386.35,383.68 L386.49,383.82 L386.63,383.96 L386.77,384.01 L386.91,384.06 L387.05,384.10 L387.19,383.74 L387.33,383.12 L387.46,382.43 L387.60,381.83 L387.74,381.81 L387.88,381.11 L388.02,379.40 L388.16,375.90 L388.30,371.60 L388.44,367.87 L388.58,366.48 L388.72,368.35 L388.85,372.16 L388.99,376.38 L389.13,379.89 L389.27,382.28 L389.41,383.67 L389.55,384.26 L389.69,384.35 L389.83,383.89 L389.97,383.45 L390.11,383.28 L390.24,383.10 L390.38,382.92 L390.52,383.41 L390.66,384.06 L390.80,384.70 L390.94,385.04 L391.08,385.15 L391.22,385.26 L391.36,385.37 L391.50,385.23 L391.63,385.10 L391.77,384.71 L391.91,384.60 L392.05,384.74 L392.19,384.88 L392.33,384.94 L392.47,384.74 L392.61,384.53 L392.75,384.33 L392.89,383.89 L393.02,383.39 L393.16,382.89 L393.30,382.67 L393.44,382.85 L393.58,383.03 L393.72,383.21 L393.86,383.60 L394.00,383.98 L394.14,384.37 L394.28,384.09 L394.41,383.38 L394.55,382.68 L394.69,382.22 L394.83,382.73 L394.97,383.23 L395.11,383.73 L395.25,383.90 L395.39,384.00 L395.53,384.09 L395.67,384.32 L395.80,384.75 L395.94,385.18 L396.08,385.48 L396.22,385.51 L396.36,385.55 L396.50,385.59 L396.64,385.65 L396.78,385.74 L396.92,385.82 L397.06,385.83 L397.19,385.54 L397.33,384.60 L397.47,383.62 L397.61,383.50 L397.75,383.60 L397.89,383.70 L398.03,384.15 L398.17,385.10 L398.31,385.72 L398.45,386.01 L398.58,386.12 L398.72,386.22 L398.86,386.33 L399.00,386.34 L399.14,386.29 L399.28,386.24 L399.42,386.15 L399.56,385.93 L399.70,385.71 L399.84,385.02 L399.97,385.06 L400.11,385.30 L400.25,385.54 L400.39,385.69 L400.53,385.69 L400.67,385.70 L400.81,385.70 L400.95,385.72 L401.09,385.73 L401.23,385.74 L401.36,385.76 L401.50,385.77 L401.64,385.79 L401.78,385.84 L401.92,385.89 L402.06,385.95 L402.20,386.00 L402.34,385.98 L402.48,385.94 L402.62,385.90 L402.75,385.91 L402.89,385.99 L403.03,386.08 L403.17,386.16 L403.31,386.09 L403.45,386.02 L403.59,385.93 L403.73,385.72 L403.87,385.56 L404.00,385.40 L404.14,385.27 L404.28,385.29 L404.42,385.31 L404.56,385.32 L404.70,385.52 L404.84,385.76 L404.98,385.99 L405.12,386.09 L405.26,386.14 L405.40,386.20 L405.53,386.25 L405.67,386.21 L405.81,386.16 L405.95,386.12 L406.09,386.10 L406.23,386.10 L406.37,386.10 L406.51,386.06 L406.65,385.67 L406.79,385.28 L406.92,384.89 L407.06,384.89 L407.20,384.96 L407.34,385.01 L407.48,385.05 L407.62,385.03 L407.76,384.76 L407.90,384.09 L408.04,382.70 L408.18,380.83 L408.31,378.79 L408.45,377.13 L408.59,376.49 L408.73,377.19 L408.87,378.91 L409.01,381.02 L409.15,382.94 L409.29,384.40 L409.43,385.30 L409.57,385.79 L409.70,386.03 L409.84,386.14 L409.98,386.17 L410.12,386.06 L410.26,385.95 L410.40,385.92 L410.54,385.89 L410.68,385.86 L410.82,385.82 L410.95,385.77 L411.09,385.72 L411.23,385.66 L411.37,385.55 L411.51,385.44 L411.65,385.34 L411.79,385.63 L411.93,386.02 L412.07,386.39 L412.21,386.56 L412.35,386.48 L412.48,386.39 L412.62,386.31 L412.76,386.06 L412.90,385.83 L413.04,385.59 L413.18,385.82 L413.32,386.36 L413.46,386.72 L413.60,386.85 L413.74,386.85 L413.87,386.84 L414.01,386.84 L414.15,386.81 L414.29,386.77 L414.43,386.74 L414.57,386.71 L414.71,386.70 L414.85,386.66 L414.99,386.61 L415.12,386.55 L415.26,386.43 L415.40,386.26 L415.54,386.10 L415.68,385.99 L415.82,385.95 L415.96,386.05 L416.10,386.22 L416.24,386.41 L416.38,386.56 L416.52,386.68 L416.65,386.75 L416.79,386.80 L416.93,386.83 L417.07,386.85 L417.21,386.87 L417.35,386.89 L417.49,387.01 L417.63,387.12 L417.77,387.22 L417.91,387.26 L418.04,387.24 L418.18,387.22 L418.32,387.20 L418.46,387.17 L418.60,387.14 L418.74,387.10 L418.88,387.12 L419.02,387.15 L419.16,387.18 L419.30,387.20 L419.43,387.19 L419.57,387.19 L419.71,387.18 L419.85,387.12 L419.99,387.06 L420.13,386.96 L420.27,386.92 L420.41,386.99 L420.55,387.04 L420.69,387.04 L420.82,386.93 L420.96,386.78 L421.10,386.63 L421.24,386.55 L421.38,386.50 L421.52,386.44 L421.66,386.43 L421.80,386.48 L421.94,386.54 L422.08,386.59 L422.21,386.60 L422.35,386.62 L422.49,386.63 L422.63,386.71 L422.77,386.84 L422.91,386.97 L423.05,387.07 L423.19,387.12 L423.33,387.17 L423.47,387.22 L423.60,387.19 L423.74,387.14 L423.88,387.09 L424.02,387.03 L424.16,386.95 L424.30,386.87 L424.44,386.79 L424.58,386.90 L424.72,387.01 L424.86,387.09 L424.99,387.09 L425.13,387.07 L425.27,387.02 L425.41,386.96 L425.55,386.88 L425.69,386.80 L425.83,386.72 L425.97,386.82 L426.11,386.97 L426.25,387.10 L426.38,387.10 L426.52,386.92 L426.66,386.71 L426.80,386.51 L426.94,386.37 L427.08,386.22 L427.22,386.08 L427.36,386.19 L427.50,386.46 L427.64,386.73 L427.77,386.95 L427.91,386.95 L428.05,386.94 L428.19,386.94 L428.33,386.90 L428.47,386.86 L428.61,386.81 L428.75,386.71 L428.89,386.52 L429.03,386.33 L429.16,386.14 L429.30,386.24 L429.44,386.34 L429.58,386.43 L429.72,386.48 L429.86,386.50 L430.00,386.51 L430.14,386.55 L430.28,386.71 L430.42,386.85 L430.55,386.96 L430.69,386.89 L430.83,386.80 L430.97,386.71 L431.11,386.68 L431.25,386.75 L431.39,386.83 L431.53,386.92 L431.67,387.03 L431.81,387.14 L431.94,387.23 L432.08,387.21 L432.22,387.08 L432.36,386.72 L432.50,386.45 L432.64,386.51 L432.78,386.57 L432.92,386.64 L433.06,386.90 L433.19,387.18 L433.33,387.28 L433.47,387.31 L433.61,387.25 L433.75,387.18 L433.89,386.98 L434.03,387.00 L434.17,387.03 L434.31,387.05 L434.45,387.04 L434.59,387.00 L434.72,386.96 L434.86,386.94 L435.00,387.01 L435.14,387.07 L435.28,387.14 L435.42,387.24 L435.56,387.31 L435.70,387.38 L435.84,387.40 L435.98,387.35 L436.11,387.30 L436.25,387.26 L436.39,387.16 L436.53,386.96 L436.67,386.75 L436.81,386.83 L436.95,387.08 L437.09,387.25 L437.23,387.33 L437.37,387.37 L437.50,387.42 L437.64,387.47 L437.78,387.49 L437.92,387.52 L438.06,387.54 L438.20,387.54 L438.34,387.53 L438.48,387.51 L438.62,387.50 L438.76,387.42 L438.89,387.34 L439.03,387.26 L439.17,387.09 L439.31,386.89 L439.45,386.70 L439.59,386.58 L439.73,386.72 L439.87,386.87 L440.01,387.01 L440.14,387.05 L440.28,387.06 L440.42,387.08 L440.56,387.02 L440.70,386.86 L440.84,386.69 L440.98,386.53 L441.12,386.87 L441.26,387.21 L441.40,387.47 L441.54,387.54 L441.67,387.59 L441.81,387.63 L441.95,387.66 L442.09,387.62 L442.23,387.58 L442.37,387.49 L442.51,387.45 L442.65,387.44 L442.79,387.43 L442.93,387.48 L443.06,387.52 L443.20,387.56 L443.34,387.61 L443.48,387.59 L443.62,387.58 L443.76,387.57 L443.90,387.53 L444.04,387.46 L444.18,387.39 L444.32,387.34 L444.45,387.34 L444.59,387.34 L444.73,387.34 L444.87,387.39 L445.01,387.44 L445.15,387.50 L445.29,387.52 L445.43,387.49 L445.57,387.47 L445.71,387.44 L445.84,387.44 L445.98,387.43 L446.12,387.42 L446.26,387.40 L446.40,387.37 L446.54,387.34 L446.68,387.29 L446.82,387.33 L446.96,387.35 L447.09,387.36 L447.23,387.37 L447.37,387.38 L447.51,387.39 L447.65,387.39 L447.79,387.39 L447.93,387.39 L448.07,387.39 L448.21,387.29 L448.35,387.10 L448.49,386.90 L448.62,386.80 L448.76,386.77 L448.90,386.74 L449.04,386.75 L449.18,386.94 L449.32,387.13 L449.46,387.33 L449.60,387.32 L449.74,387.27 L449.88,387.23 L450.01,387.26 L450.15,387.38 L450.29,387.42 L450.43,387.47 L450.57,387.45 L450.71,387.42 L450.85,387.40 L450.99,387.35 L451.13,387.21 L451.27,387.06 L451.40,386.93 L451.54,386.86 L451.68,386.80 L451.82,386.74 L451.96,386.90 L452.10,387.12 L452.24,387.34 L452.38,387.40 L452.52,387.41 L452.66,387.41 L452.79,387.41 L452.93,387.41 L453.07,387.41 L453.21,387.40 L453.35,387.43 L453.49,387.47 L453.63,387.50 L453.77,387.50 L453.91,387.38 L454.04,387.19 L454.18,386.88 L454.32,386.49 L454.46,386.03 L454.60,385.63 L454.74,385.46 L454.88,385.60 L455.02,385.98 L455.16,386.40 L455.30,386.86 L455.44,387.19 L455.57,387.40 L455.71,387.52 L455.85,387.58 L455.99,387.63 L456.13,387.65 L456.27,387.58 L456.41,387.50 L456.55,387.43 L456.69,387.39 L456.83,387.36 L456.96,387.28 L457.10,387.25 L457.24,387.28 L457.38,387.29 L457.52,387.21 L457.66,386.93 L457.80,386.46 L457.94,385.83 L458.08,385.26 L458.22,384.87 L458.35,384.79 L458.49,385.07 L458.63,385.59 L458.77,386.19 L458.91,386.70 L459.05,387.02 L459.19,387.17 L459.33,387.20 L459.47,387.17 L459.61,387.06 L459.74,386.79 L459.88,386.36 L460.02,385.75 L460.16,385.23 L460.30,385.00 L460.44,385.18 L460.58,385.65 L460.72,386.21 L460.86,386.65 L461.00,386.89 L461.13,386.99 L461.27,386.99 L461.41,387.09 L461.55,387.21 L461.69,387.33 L461.83,387.40 L461.97,387.41 L462.11,387.43 L462.25,387.44 L462.39,387.49 L462.52,387.52 L462.66,387.55 L462.80,387.54 L462.94,387.50 L463.08,387.39 L463.22,387.25 L463.36,387.11 L463.50,386.97 L463.64,386.83 L463.78,386.94 L463.91,387.11 L464.05,387.28 L464.19,387.29 L464.33,387.06 L464.47,386.82 L464.61,386.59 L464.75,386.87 L464.89,387.16 L465.03,387.44 L465.17,387.54 L465.30,387.54 L465.44,387.55 L465.58,387.55 L465.72,387.49 L465.86,387.42 L466.00,387.35 L466.14,387.30 L466.28,387.25 L466.42,387.21 L466.56,387.30 L466.69,387.57 L466.83,387.66 L466.97,387.76 L467.11,387.79 L467.25,387.82 L467.39,387.86 L467.53,387.81 L467.67,387.71 L467.81,387.60 L467.94,387.40 L468.08,387.29 L468.22,387.18 L468.36,387.07 L468.50,387.01 L468.64,386.96 L468.78,386.91 L468.92,386.81 L469.06,386.63 L469.20,386.45 L469.34,386.27 L469.47,386.53 L469.61,386.79 L469.75,387.06 L469.89,387.20 L470.03,387.25 L470.17,387.31 L470.31,387.34 L470.45,387.26 L470.59,387.19 L470.73,387.12 L470.86,387.11 L471.00,387.12 L471.14,387.13 L471.28,387.11 L471.42,387.05 L471.56,386.99 L471.70,386.93 L471.84,387.24 L471.98,387.56 L472.12,387.67 L472.25,387.72 L472.39,387.74 L472.53,387.76 L472.67,387.79 L472.81,387.86 L472.95,387.92 L473.09,387.98 L473.23,387.88 L473.37,387.72 L473.51,387.55 L473.64,387.40 L473.78,387.24 L473.92,386.93 L474.06,386.40 L474.20,385.44 L474.34,384.23 L474.48,382.92 L474.62,381.84 L474.76,381.34 L474.89,381.56 L475.03,382.43 L475.17,383.82 L475.31,385.12 L475.45,386.16 L475.59,386.80 L475.73,387.20 L475.87,387.43 L476.01,387.53 L476.15,387.59 L476.29,387.63 L476.42,387.66 L476.56,387.69 L476.70,387.72 L476.84,387.74 L476.98,387.74 L477.12,387.73 L477.26,387.72 L477.40,387.70 L477.54,387.66 L477.68,387.53 L477.81,387.37 L477.95,387.37 L478.09,387.41 L478.23,387.45 L478.37,387.48 L478.51,387.50 L478.65,387.53 L478.79,387.56 L478.93,387.55 L479.07,387.55 L479.20,387.54 L479.34,387.46 L479.48,387.34 L479.62,387.21 L479.76,387.12 L479.90,387.16 L480.04,387.19 L480.18,387.22 L480.32,387.25 L480.46,387.24 L480.59,387.19 L480.73,387.02 L480.87,386.73 L481.01,386.48 L481.15,386.34 L481.29,386.54 L481.43,386.85 L481.57,387.19 L481.71,387.44 L481.84,387.59 L481.98,387.69 L482.12,387.73 L482.26,387.61 L482.40,387.35 L482.54,387.08 L482.68,387.11 L482.82,387.21 L482.96,387.31 L483.10,387.44 L483.24,387.61 L483.37,387.74 L483.51,387.79 L483.65,387.73 L483.79,387.55 L483.93,387.36 L484.07,387.34 L484.21,387.43 L484.35,387.52 L484.49,387.60 L484.62,387.62 L484.76,387.53 L484.90,387.39 L485.04,387.09 L485.18,386.77 L485.32,386.38 L485.46,386.30 L485.60,386.56 L485.74,386.85 L485.88,387.11 L486.02,387.24 L486.15,387.31 L486.29,387.35 L486.43,387.42 L486.57,387.52 L486.71,387.61 L486.85,387.71 L486.99,387.78 L487.13,387.82 L487.27,387.85 L487.41,387.89 L487.54,387.92 L487.68,387.96 L487.82,387.95 L487.96,387.87 L488.10,387.79 L488.24,387.63 L488.38,387.68 L488.52,387.71 L488.66,387.69 L488.79,387.62 L488.93,387.50 L489.07,387.30 L489.21,387.06 L489.35,386.82 L489.49,386.71 L489.63,386.78 L489.77,386.98 L489.91,387.21 L490.05,387.41 L490.19,387.51 L490.32,387.53 L490.46,387.50 L490.60,387.44 L490.74,387.51 L490.88,387.53 L491.02,387.45 L491.16,387.21 L491.30,386.62 L491.44,385.42 L491.58,383.41 L491.71,380.81 L491.85,378.39 L491.99,377.40 L492.13,378.41 L492.27,380.82 L492.41,383.41 L492.55,385.37 L492.69,386.46 L492.83,386.81 L492.97,386.81 L493.10,386.81 L493.24,386.70 L493.38,386.48 L493.52,386.23 L493.66,385.81 L493.80,385.08 L493.94,384.13 L494.08,383.15 L494.22,382.75 L494.36,383.12 L494.49,383.96 L494.63,384.93 L494.77,385.73 L494.91,386.35 L495.05,386.90 L495.19,387.26 L495.33,387.52 L495.47,387.47 L495.61,387.39 L495.75,387.31 L495.88,387.23 L496.02,387.14 L496.16,387.06 L496.30,387.02 L496.44,387.18 L496.58,387.34 L496.72,387.50 L496.86,387.51 L497.00,387.49 L497.14,387.46 L497.27,387.52 L497.41,387.71 L497.55,387.89 L497.69,387.99 L497.83,387.98 L497.97,387.97 L498.11,387.93 L498.25,387.91 L498.39,387.91 L498.53,387.91 L498.66,387.90 L498.80,387.85 L498.94,387.80 L499.08,387.75 L499.22,387.59 L499.36,387.40 L499.50,387.22 L499.64,387.07 L499.78,386.97 L499.92,386.86 L500.05,386.76 L500.19,387.12 L500.33,387.47 L500.47,387.83 L500.61,388.00 L500.75,388.02 L500.89,388.03 L501.03,388.04 L501.17,388.01 L501.31,387.95 L501.44,387.87 L501.58,387.95 L501.72,388.01 L501.86,388.04 L502.00,388.03 L502.14,387.97 L502.28,387.87 L502.42,387.66 L502.56,387.53 L502.69,387.30 L502.83,386.94 L502.97,386.46 L503.11,385.83 L503.25,385.06 L503.39,384.22 L503.53,383.56 L503.67,383.31 L503.81,383.57 L503.95,384.28 L504.09,385.20 L504.22,386.13 L504.36,386.87 L504.50,387.36 L504.64,387.67 L504.78,387.84 L504.92,388.02 L505.06,388.14 L505.20,388.24 L505.34,388.28 L505.48,388.28 L505.61,388.29 L505.75,388.28 L505.89,388.28 L506.03,388.27 L506.17,388.26 L506.31,388.25 L506.45,388.23 L506.59,388.22 L506.73,388.19 L506.87,388.15 L507.00,388.05 L507.14,387.90 L507.28,387.97 L507.42,388.05 L507.56,388.12 L507.70,388.17 L507.84,388.18 L507.98,388.20 L508.12,388.21 L508.26,388.16 L508.39,388.02 L508.53,387.87 L508.67,387.75 L508.81,387.64 L508.95,387.52 L509.09,387.52 L509.23,387.68 L509.37,387.84 L509.51,388.00 L509.64,387.97 L509.78,387.95 L509.92,387.92 L510.06,387.85 L510.20,387.75 L510.34,387.65 L510.48,387.58 L510.62,387.70 L510.76,387.78 L510.90,387.82 L511.04,387.78 L511.17,387.59 L511.31,387.35 L511.45,387.05 L511.59,386.48 L511.73,385.97 L511.87,385.62 L512.01,385.88 L512.15,386.20 L512.29,386.53 L512.42,387.08 L512.56,387.75 L512.70,388.18 L512.84,388.36 L512.98,388.36 L513.12,388.35 L513.26,388.32 L513.40,388.29 L513.54,388.26 L513.68,388.13 L513.82,388.03 L513.95,387.96 L514.09,387.90 L514.23,387.83 L514.37,387.89 L514.51,387.96 L514.65,388.02 L514.79,388.15 L514.93,388.31 L515.07,388.37 L515.21,388.42 L515.34,388.45 L515.48,388.48 L515.62,388.52 L515.76,388.49 L515.90,388.45 L516.04,388.41 L516.18,388.37 L516.32,388.35 L516.46,388.26 L516.59,388.17 L516.73,388.37 L516.87,388.45 L517.01,388.52 L517.15,388.56 L517.29,388.57 L517.43,388.58 L517.57,388.58 L517.71,388.56 L517.85,388.54 L517.99,388.52 L518.12,388.56 L518.26,388.61 L518.40,388.66 L518.54,388.67 L518.68,388.63 L518.82,388.58 L518.96,388.54 L519.10,388.52 L519.24,388.51 L519.38,388.49 L519.51,388.47 L519.65,388.45 L519.79,388.43 L519.93,388.42 L520.07,388.46 L520.21,388.50 L520.35,388.54 L520.49,388.56 L520.63,388.57 L520.76,388.59 L520.90,388.59 L521.04,388.57 L521.18,388.55 L521.32,388.53 L521.46,388.52 L521.60,388.51 L521.74,388.50 L521.88,388.50 L522.02,388.52 L522.16,388.53 L522.29,388.54 L522.43,388.51 L522.57,388.48 L522.71,388.42 L522.85,388.30 L522.99,388.16 L523.13,388.03 L523.27,387.91 L523.41,387.81 L523.54,387.71 L523.68,387.61 L523.82,387.61 L523.96,387.61 L524.10,387.61 L524.24,387.79 L524.38,388.08 L524.52,388.37 L524.66,388.55 L524.80,388.58 L524.94,388.61 L525.07,388.64 L525.21,388.68 L525.35,388.71 L525.49,388.75 L525.63,388.72 L525.77,388.60 L525.91,388.35 L526.05,387.94 L526.19,388.11 L526.33,388.29 L526.46,388.46 L526.60,388.52 L526.74,388.50 L526.88,388.48 L527.02,388.45 L527.16,388.42 L527.30,388.39 L527.44,388.36 L527.58,388.48 L527.72,388.59 L527.85,388.64 L527.99,388.66 L528.13,388.61 L528.27,388.54 L528.41,388.38 L528.55,388.44 L528.69,388.50 L528.83,388.57 L528.97,388.62 L529.11,388.68 L529.24,388.74 L529.38,388.77 L529.52,388.69 L529.66,388.62 L529.80,388.42 L529.94,388.31 L530.08,388.22 L530.22,388.14 L530.36,388.20 L530.50,388.48 L530.63,388.66 L530.77,388.75 L530.91,388.68 L531.05,388.58 L531.19,388.36 L531.33,388.26 L531.47,388.26 L531.61,388.26 L531.75,388.25 L531.89,388.25 L532.02,388.25 L532.16,388.25 L532.30,388.24 L532.44,388.22 L532.58,388.20 L532.72,388.18 L532.86,388.13 L533.00,388.08 L533.14,388.04 L533.27,388.18 L533.41,388.33 L533.55,388.48 L533.69,388.51 L533.83,388.48 L533.97,388.44 L534.11,388.43 L534.25,388.54 L534.39,388.65 L534.53,388.72 L534.66,388.71 L534.80,388.70 L534.94,388.66 L535.08,388.69 L535.22,388.75 L535.36,388.79 L535.50,388.84 L535.64,388.81 L535.78,388.79 L535.92,388.76 L536.06,388.67 L536.19,388.46 L536.33,388.25 L536.47,388.11 L536.61,388.24 L536.75,388.37 L536.89,388.50 L537.03,388.65 L537.17,388.77 L537.31,388.81 L537.44,388.86 L537.58,388.90 L537.72,388.95 L537.86,388.99 L538.00,388.98 L538.14,388.97 L538.28,388.96 L538.42,388.93 L538.56,388.88 L538.70,388.84 L538.84,388.80 L538.97,388.72 L539.11,388.60 L539.25,388.48 L539.39,388.49 L539.53,388.52 L539.67,388.55 L539.81,388.58 L539.95,388.59 L540.09,388.61 L540.23,388.63 L540.36,388.64 L540.50,388.66 L540.64,388.68 L540.78,388.62 L540.92,388.51 L541.06,388.40 L541.20,388.35 L541.34,388.53 L541.48,388.70 L541.62,388.85 L541.75,388.86 L541.89,388.87 L542.03,388.88 L542.17,388.87 L542.31,388.77 L542.45,388.61 L542.59,388.46 L542.73,388.53 L542.87,388.60 L543.00,388.67 L543.14,388.74 L543.28,388.82 L543.42,388.88 L543.56,388.90 L543.70,388.91 L543.84,388.92 L543.98,388.93 L544.12,388.92 L544.26,388.90 L544.39,388.88 L544.53,388.83 L544.67,388.71 L544.81,388.60 L544.95,388.48 L545.09,388.53 L545.23,388.58 L545.37,388.63 L545.51,388.74 L545.65,388.86 L545.79,388.90 L545.92,388.93 L546.06,388.88 L546.20,388.83 L546.34,388.67 L546.48,388.66 L546.62,388.67 L546.76,388.69 L546.90,388.74 L547.04,388.83 L547.17,388.86 L547.31,388.88 L547.45,388.84 L547.59,388.74 L547.73,388.59 L547.87,388.58 L548.01,388.66 L548.15,388.74 L548.29,388.80 L548.43,388.80 L548.57,388.80 L548.70,388.80 L548.84,388.69 L548.98,388.53 L549.12,388.38 L549.26,388.27 L549.40,388.23 L549.54,388.19 L549.68,388.15 L549.82,388.35 L549.96,388.55 L550.09,388.74 L550.23,388.76 L550.37,388.74 L550.51,388.72 L550.65,388.70 L550.79,388.71 L550.93,388.70 L551.07,388.69 L551.21,388.52 L551.34,388.21 L551.48,387.85 L551.62,387.60 L551.76,387.53 L551.90,387.30 L552.04,386.92 L552.18,386.17 L552.32,385.41 L552.46,384.82 L552.60,384.67 L552.74,385.01 L552.87,385.64 L553.01,386.35 L553.15,386.98 L553.29,387.40 L553.43,387.67 L553.57,387.86 L553.71,387.96 L553.85,387.98 L553.99,388.18 L554.12,388.64 L554.26,388.80 L554.40,388.95 L554.54,388.91 L554.68,388.87 L554.82,388.83 L554.96,388.79 L555.10,388.74 L555.24,388.69 L555.38,388.59 L555.51,388.65 L555.65,388.68 L555.79,388.70 L555.93,388.70 L556.07,388.70 L556.21,388.70 L556.35,388.63 L556.49,388.35 L556.63,388.07 L556.77,387.79 L556.90,388.01 L557.04,388.22 L557.18,388.43 L557.32,388.63 L557.46,388.71 L557.60,388.77 L557.74,388.81 L557.88,388.75 L558.02,388.70 L558.16,388.60 L558.29,388.67 L558.43,388.71 L558.57,388.75 L558.71,388.75 L558.85,388.68 L558.99,388.54 L559.13,388.31 L559.27,388.41 L559.41,388.51 L559.55,388.61 L559.69,388.61 L559.82,388.54 L559.96,388.47 L560.10,388.38 L560.24,388.26 L560.38,388.13 L560.52,388.00 L560.66,388.10 L560.80,388.25 L560.94,388.40 L561.07,388.58 L561.21,388.68 L561.35,388.75 L561.49,388.82 L561.63,388.81 L561.77,388.81 L561.91,388.81 L562.05,388.74 L562.19,388.64 L562.33,388.39 L562.47,388.12 L562.60,388.13 L562.74,388.15 L562.88,388.16 L563.02,388.29 L563.16,388.44 L563.30,388.59 L563.44,388.60 L563.58,388.48 L563.72,388.33 L563.86,388.18 L563.99,388.17 L564.13,388.16 L564.27,388.14 L564.41,388.19 L564.55,388.27 L564.69,388.35 L564.83,388.48 L564.97,388.63 L565.11,388.72 L565.24,388.80 L565.38,388.78 L565.52,388.72 L565.66,388.66 L565.80,388.60 L565.94,388.50 L566.08,388.30 L566.22,388.10 L566.36,388.08 L566.50,388.06 L566.63,388.04 L566.77,388.09 L566.91,388.18 L567.05,388.27 L567.19,388.41 L567.33,388.60 L567.47,388.70 L567.61,388.79 L567.75,388.76 L567.89,388.69 L568.02,388.62 L568.16,388.55 L568.30,388.44 L568.44,388.25 L568.58,388.07 L568.72,387.92 L568.86,387.77 L569.00,387.61 L569.14,387.76 L569.28,388.10 L569.41,388.45 L569.55,388.57 L569.69,388.57 L569.83,388.58 L569.97,388.58 L570.11,388.56 L570.25,388.53 L570.39,388.50 L570.53,388.41 L570.67,388.33 L570.81,388.25 L570.94,388.17 L571.08,388.25 L571.22,388.34 L571.36,388.42 L571.50,388.39 L571.64,388.29 L571.78,388.19 L571.92,388.14 L572.06,388.29 L572.19,388.44 L572.33,388.50 L572.47,388.50 L572.61,388.48 L572.75,388.47 L572.89,388.46 L573.03,388.47 L573.17,388.48 L573.31,388.49 L573.45,388.48 L573.58,388.47 L573.72,388.45 L573.86,388.47 L574.00,388.50 L574.14,388.53 L574.28,388.56 L574.42,388.57 L574.56,388.58 L574.70,388.60 L574.84,388.53 L574.98,388.45 L575.11,388.20 L575.25,388.05 L575.39,388.08 L575.53,388.12 L575.67,388.16 L575.81,388.26 L575.95,388.36 L576.09,388.43 L576.23,388.42 L576.37,388.35 L576.50,388.26 L576.64,388.17 L576.78,388.12 L576.92,388.06 L577.06,388.01 L577.20,388.15 L577.34,388.34 L577.48,388.44 L577.62,388.46 L577.75,388.44 L577.89,388.42 L578.03,388.40 L578.17,388.34 L578.31,388.24 L578.45,388.14 L578.59,388.11 L578.73,388.12 L578.87,388.13 L579.01,388.17 L579.14,388.34 L579.28,388.40 L579.42,388.45 L579.56,388.49 L579.70,388.53 L579.84,388.58 L579.98,388.56 L580.12,388.46 L580.26,388.37 L580.40,388.08 L580.53,388.11 L580.67,388.13 L580.81,388.15 L580.95,388.21 L581.09,388.28 L581.23,388.34 L581.37,388.36 L581.51,388.37 L581.65,388.38 L581.79,388.39 L581.92,388.38 L582.06,388.37 L582.20,388.36 L582.34,388.36 L582.48,388.38 L582.62,388.41 L582.76,388.43 L582.90,388.46 L583.04,388.48 L583.18,388.51 L583.31,388.51 L583.45,388.51 L583.59,388.50 L583.73,388.49 L583.87,388.48 L584.01,388.48 L584.15,388.47 L584.29,388.46 L584.43,388.46 L584.57,388.46 L584.71,388.46 L584.84,388.46 L584.98,388.46 L585.12,388.45 L585.26,388.41 L585.40,388.36 L585.54,388.31 L585.68,388.31 L585.82,388.34 L585.96,388.37 L586.09,388.38 L586.23,388.34 L586.37,388.29 L586.51,388.25 L586.65,388.26 L586.79,388.28 L586.93,388.30 L587.07,388.30 L587.21,388.24 L587.35,388.17 L587.48,388.01 L587.62,387.86 L587.76,387.71 L587.90,387.56 L588.04,387.58 L588.18,387.71 L588.32,387.83 L588.46,387.95 L588.60,388.05 L588.74,388.09 L588.88,388.10 L589.01,388.04 L589.15,387.96 L589.29,387.84 L589.43,387.62 L589.57,387.20 L589.71,386.35 L589.85,384.86 L589.99,382.72 L590.13,380.19 L590.26,378.01 L590.40,377.11 L590.54,377.98 L590.68,380.18 L590.82,382.73 L590.96,384.89 L591.10,386.35 L591.24,387.17 L591.38,387.60 L591.52,387.81 L591.65,387.92 L591.79,387.98 L591.93,388.00 L592.07,387.97 L592.21,387.93 L592.35,387.85 L592.49,387.77 L592.63,387.69 L592.77,387.65 L592.91,387.63 L593.04,387.61 L593.18,387.59 L593.32,387.59 L593.46,387.58 L593.60,387.58 L593.74,387.63 L593.88,387.69 L594.02,387.76 L594.16,387.84 L594.30,387.95 L594.43,388.06 L594.57,388.13 L594.71,388.14 L594.85,388.14 L594.99,388.14 L595.13,388.14 L595.27,388.15 L595.41,388.15 L595.55,388.16 L595.69,388.16 L595.82,388.16 L595.96,388.16 L596.10,388.17 L596.24,388.17 L596.38,388.18 L596.52,388.20 L596.66,388.24 L596.80,388.28 L596.94,388.32 L597.08,388.28 L597.22,388.23 L597.35,388.19 L597.49,388.17 L597.63,388.15 L597.77,388.13 L597.91,388.12 L598.05,388.14 L598.19,388.16 L598.33,388.18 L598.47,388.16 L598.61,388.12 L598.74,388.09 L598.88,388.02 L599.02,387.94 L599.16,387.86 L599.30,387.78 L599.44,387.78 L599.58,387.78 L599.72,387.78 L599.86,387.72 L599.99,387.62 L600.13,387.52 L600.27,387.52 L600.41,387.94 L600.55,388.14 L600.69,388.27 L600.83,388.27 L600.97,388.24 L601.11,388.21 L601.25,388.19 L601.38,388.20 L601.52,388.22 L601.66,388.23 L601.80,388.13 L601.94,388.03 L602.08,387.70 L602.22,387.49 L602.36,387.37 L602.50,387.24 L602.64,387.24 L602.77,387.72 L602.91,388.07 L603.05,388.21 L603.19,388.19 L603.33,388.14 L603.47,388.08 L603.61,388.04 L603.75,388.00 L603.89,387.95 L604.03,387.84 L604.16,387.90 L604.30,387.95 L604.44,387.98 L604.58,387.98 L604.72,387.98 L604.86,387.98 L605.00,387.99 L605.14,388.05 L605.28,388.11 L605.42,388.17 L605.56,388.11 L605.69,388.03 L605.83,387.94 L605.97,387.79 L606.11,387.76 L606.25,387.73 L606.39,387.69 L606.53,387.76 L606.67,387.83 L606.81,387.89 L606.95,387.91 L607.08,387.92 L607.22,387.92 L607.36,387.92 L607.50,387.89 L607.64,387.83 L607.78,387.73 L607.92,387.75 L608.06,387.80 L608.20,387.80 L608.33,387.77 L608.47,387.71 L608.61,387.63 L608.75,387.54 L608.89,387.47 L609.03,387.37 L609.17,387.25 L609.31,387.12 L609.45,386.97 L609.59,386.81 L609.73,386.62 L609.86,386.35 L610.00,386.11 L610.14,385.90 L610.28,385.77 L610.42,385.70 L610.56,385.66 L610.70,385.67 L610.84,385.78 L610.98,385.93 L611.12,386.10 L611.25,386.45 L611.39,386.75 L611.53,386.98 L611.67,387.16 L611.81,387.29 L611.95,387.39 L612.09,387.47 L612.23,387.47 L612.37,387.44 L612.50,387.40 L612.64,387.41 L612.78,387.43 L612.92,387.45 L613.06,387.41 L613.20,387.27 L613.34,387.14 L613.48,387.00 L613.62,386.97 L613.76,386.93 L613.89,386.89 L614.03,387.08 L614.17,387.42 L614.31,387.76 L614.45,387.85 L614.59,387.88 L614.73,387.91 L614.87,387.95 L615.01,387.88 L615.15,387.78 L615.28,387.54 L615.42,387.29 L615.56,387.14 L615.70,386.99 L615.84,386.84 L615.98,386.89 L616.12,386.94 L616.26,386.98 L616.40,387.04 L616.54,387.10 L616.67,387.17 L616.81,387.25 L616.95,387.42 L617.09,387.58 L617.23,387.71 L617.37,387.72 L617.51,387.71 L617.65,387.70 L617.79,387.68 L617.93,387.56 L618.06,387.41 L618.20,387.26 L618.34,387.44 L618.48,387.60 L618.62,387.61 L618.76,387.57 L618.90,387.47 L619.04,387.27 L619.18,386.92 L619.32,386.37 L619.46,385.72 L619.59,385.06 L619.73,384.42 L619.87,383.84 L620.01,383.60 L620.15,383.84 L620.29,384.48 L620.43,385.12 L620.57,385.67 L620.71,386.37 L620.85,386.93 L620.98,387.40 L621.12,387.53 L621.26,387.59 L621.40,387.63 L621.54,387.66 L621.68,387.64 L621.82,387.63 L621.96,387.61 L622.10,387.61 L622.23,387.61 L622.37,387.62 L622.51,387.60 L622.65,387.46 L622.79,387.28 L622.93,387.10 L623.07,387.21 L623.21,387.33 L623.35,387.44 L623.49,387.52 L623.62,387.54 L623.76,387.52 L623.90,387.47 L624.04,387.28 L624.18,386.92 L624.32,386.51 L624.46,386.31 L624.60,386.18 L624.74,386.10 L624.88,386.08 L625.01,386.11 L625.15,386.25 L625.29,386.45 L625.43,386.70 L625.57,386.91 L625.71,387.06 L625.85,387.17 L625.99,387.25 L626.13,387.30 L626.27,387.33 L626.40,387.30 L626.54,387.27 L626.68,387.23 L626.82,387.33 L626.96,387.46 L627.10,387.50 L627.24,387.54 L627.38,387.58 L627.52,387.63 L627.66,387.67 L627.80,387.67 L627.93,387.67 L628.07,387.67 L628.21,387.62 L628.35,387.55 L628.49,387.47 L628.63,387.37 L628.77,387.25 L628.91,387.10 L629.05,386.92 L629.18,386.70 L629.32,386.44 L629.46,386.11 L629.60,385.71 L629.74,385.32 L629.88,384.91 L630.02,384.49 L630.16,384.08 L630.30,383.71 L630.44,383.42 L630.57,383.27 L630.71,383.28 L630.85,383.40 L630.99,383.64 L631.13,384.00 L631.27,384.37 L631.41,384.76 L631.55,385.16 L631.69,385.55 L631.83,385.91 L631.97,386.25 L632.10,386.55 L632.24,386.81 L632.38,387.03 L632.52,387.12 L632.66,387.17 L632.80,387.20 L632.94,387.21 L633.08,387.16 L633.22,387.07 L633.36,386.98 L633.49,387.00 L633.63,387.01 L633.77,387.01 L633.91,387.08 L634.05,387.16 L634.19,387.24 L634.33,387.28 L634.47,387.28 L634.61,387.27 L634.75,387.27 L634.88,387.17 L635.02,387.08 L635.16,386.98 L635.30,386.97 L635.44,387.02 L635.58,387.08 L635.72,387.11 L635.86,387.06 L636.00,387.01 L636.13,386.96 L636.27,386.95 L636.41,386.96 L636.55,386.97 L636.69,386.98 L636.83,386.99 L636.97,387.01 L637.11,387.02 L637.25,386.96 L637.39,386.89 L637.52,386.82 L637.66,386.90 L637.80,387.07 L637.94,387.24 L638.08,387.36 L638.22,387.37 L638.36,387.37 L638.50,387.38 L638.64,387.39 L638.78,387.40 L638.91,387.41 L639.05,387.41 L639.19,387.39 L639.33,387.37 L639.47,387.35 L639.61,387.13 L639.75,386.85 L639.89,386.57 L640.03,386.43 L640.17,386.38 L640.31,386.33 L640.44,386.33 L640.58,386.50 L640.72,386.67 L640.86,386.83 L641.00,386.85 L641.14,386.83 L641.28,386.80 L641.42,386.76 L641.56,386.69 L641.70,386.62 L641.83,386.56 L641.97,386.58 L642.11,386.60 L642.25,386.62 L642.39,386.65 L642.53,386.69 L642.67,386.73 L642.81,386.81 L642.95,387.07 L643.08,387.28 L643.22,387.36 L643.36,387.37 L643.50,387.36 L643.64,387.34 L643.78,387.32 L643.92,387.27 L644.06,387.15 L644.20,386.98 L644.34,386.88 L644.48,386.78 L644.61,386.69 L644.75,386.73 L644.89,386.88 L645.03,387.03 L645.17,387.17 L645.31,387.24 L645.45,387.27 L645.59,387.31 L645.73,387.31 L645.87,387.30 L646.00,387.29 L646.14,387.28 L646.28,387.28 L646.42,387.28 L646.56,387.28 L646.70,387.27 L646.84,387.25 L646.98,387.23 L647.12,387.18 L647.25,387.07 L647.39,386.86 L647.53,386.71 L647.67,386.85 L647.81,386.99 L647.95,387.07 L648.09,387.03 L648.23,386.95 L648.37,386.81 L648.51,386.56 L648.64,386.10 L648.78,385.43 L648.92,384.42 L649.06,383.29 L649.20,381.76 L649.34,380.09 L649.48,378.78 L649.62,378.37 L649.76,379.08 L649.90,380.65 L650.03,382.50 L650.17,384.09 L650.31,385.33 L650.45,386.08 L650.59,386.48 L650.73,386.59 L650.87,386.58 L651.01,386.51 L651.15,386.41 L651.29,386.30 L651.42,386.38 L651.56,386.46 L651.70,386.53 L651.84,386.56 L651.98,386.56 L652.12,386.55 L652.26,386.57 L652.40,386.66 L652.54,386.76 L652.68,386.85 L652.81,386.87 L652.95,386.87 L653.09,386.87 L653.23,386.88 L653.37,386.92 L653.51,386.96 L653.65,386.98 L653.79,386.92 L653.93,386.83 L654.07,386.75 L654.21,386.68 L654.34,386.63 L654.48,386.58 L654.62,386.59 L654.76,386.82 L654.90,386.95 L655.04,387.02 L655.18,387.00 L655.32,386.96 L655.46,386.93 L655.60,386.89 L655.73,386.87 L655.87,386.82 L656.01,386.75 L656.15,386.81 L656.29,386.82 L656.43,386.83 L656.57,386.82 L656.71,386.79 L656.85,386.76 L656.98,386.71 L657.12,386.52 L657.26,386.33 L657.40,386.13 L657.54,385.97 L657.68,385.80 L657.82,385.61 L657.96,385.51 L658.10,385.56 L658.24,385.61 L658.38,385.65 L658.51,385.68 L658.65,385.70 L658.79,385.70 L658.93,385.69 L659.07,385.62 L659.21,385.44 L659.35,385.16 L659.49,384.58 L659.63,383.66 L659.76,382.44 L659.90,381.08 L660.04,379.19 L660.18,376.54 L660.32,373.03 L660.46,368.65 L660.60,363.56 L660.74,358.10 L660.88,352.70 L661.02,348.07 L661.15,344.92 L661.29,343.77 L661.43,344.84 L661.57,347.95 L661.71,352.54 L661.85,357.93 L661.99,363.45 L662.13,368.59 L662.27,372.98 L662.41,376.51 L662.55,379.17 L662.68,381.04 L662.82,381.51 L662.96,381.76 L663.10,381.98 L663.24,382.28 L663.38,382.54 L663.52,382.79 L663.66,383.01 L663.80,383.20 L663.93,383.38 L664.07,383.54 L664.21,383.73 L664.35,383.88 L664.49,384.00 L664.63,384.04 L664.77,383.96 L664.91,383.87 L665.05,383.92 L665.19,384.18 L665.32,384.41 L665.46,384.52 L665.60,384.60 L665.74,384.68 L665.88,384.75 L666.02,384.76 L666.16,384.74 L666.30,384.72 L666.44,384.70 L666.58,384.72 L666.72,384.73 L666.85,384.74 L666.99,384.75 L667.13,384.76 L667.27,384.76 L667.41,384.75 L667.55,384.75 L667.69,384.76 L667.83,384.76 L667.97,384.78 L668.11,384.79 L668.24,384.80 L668.38,384.84 L668.52,384.89 L668.66,384.95 L668.80,384.99 L668.94,384.98 L669.08,384.96 L669.22,384.94 L669.36,384.82 L669.50,384.65 L669.63,384.49 L669.77,384.42 L669.91,384.50 L670.05,384.57 L670.19,384.65 L670.33,384.77 L670.47,384.88 L670.61,385.00 L670.75,385.06 L670.88,385.07 L671.02,385.08 L671.16,385.10 L671.30,385.11 L671.44,385.13 L671.58,385.15 L671.72,385.15 L671.86,385.16 L672.00,385.15 L672.14,385.12 L672.27,385.07 L672.41,385.01 L672.55,385.00 L672.69,385.14 L672.83,385.28 L672.97,385.33 L673.11,385.39 L673.25,385.46 L673.39,385.53 L673.53,385.58 L673.66,385.54 L673.80,385.50 L673.94,385.45 L674.08,385.45 L674.22,385.46 L674.36,385.46 L674.50,385.45 L674.64,385.43 L674.78,385.40 L674.92,385.30 L675.06,385.39 L675.19,385.45 L675.33,385.49 L675.47,385.49 L675.61,385.47 L675.75,385.38 L675.89,385.28 L676.03,385.14 L676.17,385.01 L676.31,384.87 L676.45,385.09 L676.58,385.41 L676.72,385.60 L676.86,385.68 L677.00,385.72 L677.14,385.76 L677.28,385.80 L677.42,385.83 L677.56,385.86 L677.70,385.89 L677.83,385.93 L677.97,385.97 L678.11,386.01 L678.25,386.04 L678.39,386.03 L678.53,386.01 L678.67,386.00 L678.81,385.94 L678.95,385.88 L679.09,385.82 L679.23,385.79 L679.36,385.82 L679.50,385.86 L679.64,385.89 L679.78,385.94 L679.92,385.99 L680.06,386.04 L680.20,386.05 L680.34,386.04 L680.48,386.03 L680.62,386.01 L680.75,385.95 L680.89,385.90 L681.03,385.85 L681.17,385.86 L681.31,385.89 L681.45,385.93 L681.59,385.94 L681.73,385.94 L681.87,385.94 L682.00,385.94 L682.14,385.90 L682.28,385.78 L682.42,385.67 L682.56,385.54 L682.70,385.41" fill="none" stroke="#000" stroke-width="1.7" stroke-linejoin="round" stroke-linecap="round"/>
<line x1="323.8" x2="323.8" y1="57.5" y2="230.8" stroke="#000" stroke-width="2"/>
<line x1="322.8" x2="599.1" y1="227.7" y2="227.7" stroke="#000" stroke-width="2"/>
<line x1="415.03" x2="415.03" y1="227.7" y2="230.8" stroke="#000" stroke-width="1.9"/>
<line x1="506.56" x2="506.56" y1="227.7" y2="230.8" stroke="#000" stroke-width="1.9"/>
<line x1="598.09" x2="598.09" y1="227.7" y2="230.8" stroke="#000" stroke-width="1.9"/>
<text x="323.70" y="245.8" font-size="15" text-anchor="middle" font-family="'Liberation Serif', 'Times New Roman', serif" font-weight="bold">2</text>
<text x="415.23" y="245.8" font-size="15" text-anchor="middle" font-family="'Liberation Serif', 'Times New Roman', serif" font-weight="bold">3</text>
<text x="506.76" y="245.8" font-size="15" text-anchor="middle" font-family="'Liberation Serif', 'Times New Roman', serif" font-weight="bold">4</text>
<text x="598.29" y="245.8" font-size="15" text-anchor="middle" font-family="'Liberation Serif', 'Times New Roman', serif" font-weight="bold">5</text>
<text x="320" y="232.80" font-size="15" text-anchor="end" font-family="'Liberation Serif', 'Times New Roman', serif" font-weight="bold">0</text>
<line x1="323.8" x2="326.8" y1="162.45" y2="162.45" stroke="#000" stroke-width="1.9"/>
<text x="320" y="167.55" font-size="15" text-anchor="end" font-family="'Liberation Serif', 'Times New Roman', serif" font-weight="bold">5</text>
<line x1="323.8" x2="326.8" y1="97.20" y2="97.20" stroke="#000" stroke-width="1.9"/>
<text x="320" y="102.30" font-size="15" text-anchor="end" font-family="'Liberation Serif', 'Times New Roman', serif" font-weight="bold">10</text>
<path d="M324.77,197.23 L325.65,205.39 L326.91,211.66 L328.79,216.06 L330.67,217.31 L331.93,217.31 L333.18,219.20 L336.32,221.46 L338.83,221.71 L340.72,221.46 L343.23,222.71 L344.73,221.71 L345.74,211.66 L346.49,206.39 L347.37,214.18 L348.25,217.31 L349.88,218.19 L350.76,211.66 L351.64,199.11 L352.64,211.66 L353.40,217.94 L354.53,219.20 L356.41,221.08 L358.29,222.34 L359.92,221.08 L361.18,215.43 L362.06,205.39 L362.69,194.72 L363.57,205.39 L364.57,215.43 L365.83,220.45 L367.46,222.09 L368.71,221.08 L369.59,211.66 L370.22,186.55 L370.50,174.00 L370.67,136.34 L370.90,71.43 L371.60,112.48 L372.29,160.19 L372.48,174.00 L372.98,186.55 L373.74,199.11 L374.87,211.66 L376.12,217.31 L377.75,218.57 L379.64,218.95 L381.27,217.31 L382.15,218.95 L384.03,219.83 L385.29,221.46 L387.17,220.70 L389.05,221.71 L390.94,220.70 L392.82,221.08 L394.07,219.83 L395.33,222.34 L396.00,222.71 L397.88,221.71 L399.14,218.95 L400.77,219.45 L402.28,221.46 L403.78,220.70 L405.42,216.69 L406.67,212.29 L407.93,208.53 L409.18,210.41 L410.19,205.39 L411.32,197.23 L412.32,206.64 L413.33,214.18 L414.83,217.94 L416.72,219.20 L417.97,218.57 L418.85,211.66 L419.85,202.25 L420.73,210.41 L421.74,216.06 L422.74,214.18 L423.87,205.39 L424.88,212.92 L426.13,219.20 L428.02,220.70 L429.27,219.83 L430.53,221.71 L432.03,217.94 L433.04,221.08 L434.29,215.43 L435.17,205.39 L435.92,194.72 L436.80,206.64 L437.81,217.31 L439.06,219.20 L440.19,217.31 L441.45,220.45 L443.08,221.08 L444.71,222.96 L446.22,221.46 L447.73,221.71 L449.36,219.20 L451.24,219.45 L453.12,217.94 L455.01,217.69 L456.51,212.92 L457.77,217.31 L459.40,219.20 L461.29,221.08 L462.54,219.83 L463.80,218.57 L464.80,221.71 L466.31,221.46 L467.81,222.96 L469.45,223.59 L471.33,223.22 L472.00,222.34 L473.26,219.83 L474.76,218.95 L476.02,222.34 L477.65,223.22 L478.91,222.34 L479.78,211.66 L480.54,201.87 L481.42,211.66 L482.67,216.69 L483.93,218.57 L485.18,218.95 L486.44,221.71 L488.32,221.46 L489.58,219.83 L490.83,219.20 L492.09,218.19 L493.97,218.57 L495.23,222.34 L496.48,220.45 L497.74,217.31 L498.99,219.45 L500.88,221.46 L502.76,222.34 L504.64,222.71 L506.53,221.46 L508.41,221.71 L509.66,219.83 L510.92,222.34 L512.43,221.08 L513.43,215.43 L514.44,213.17 L515.44,217.94 L516.57,221.71 L518.45,222.34 L520.34,221.46 L522.22,221.08 L523.48,218.19 L524.73,221.46 L526.61,222.34 L528.50,223.59 L530.38,224.22 L532.26,223.22 L534.15,221.71 L535.03,211.66 L536.03,193.46 L537.03,206.64 L537.91,212.92 L539.17,216.06 L541.05,218.57 L542.94,219.83 L544.57,217.31 L545.82,219.83 L547.33,221.08 L548.00,221.46 L549.88,222.34 L551.77,222.96 L553.65,221.46 L554.91,219.83 L556.54,221.71 L558.04,222.34 L559.93,222.71 L561.56,220.45 L563.07,221.71 L564.95,221.96 L566.83,221.46 L568.72,222.71 L570.35,223.59 L571.60,224.22 L573.11,222.96 L574.99,221.71 L576.88,221.08 L578.76,221.71 L580.39,221.46 L581.65,217.94 L582.53,212.92 L583.28,210.41 L584.16,216.69 L585.04,221.46 L586.29,219.83 L587.30,218.57 L588.43,221.08 L589.68,222.71 L590.94,219.83 L591.94,219.20 L592.95,221.46 L594.20,222.34 L595.46,221.08 L596.71,220.45 L597.97,221.71" fill="none" stroke="#000" stroke-width="1.1" stroke-linejoin="round"/>
<line x1="419.3" x2="419.3" y1="146" y2="202" stroke="#000" stroke-width="0.9" stroke-dasharray="1.2,1.2"/>
<line x1="424.2" x2="424.2" y1="160" y2="205" stroke="#000" stroke-width="0.9" stroke-dasharray="1.2,1.2"/>
<text x="327.9" y="194.2" font-size="15" text-anchor="middle" font-family="'Liberation Serif', 'Times New Roman', serif" font-weight="bold">1</text>
<text x="346.8" y="204.9" font-size="15" text-anchor="middle" font-family="'Liberation Serif', 'Times New Roman', serif" font-weight="bold">2</text>
<text x="353.2" y="196.1" font-size="15" text-anchor="middle" font-family="'Liberation Serif', 'Times New Roman', serif" font-weight="bold">3</text>
<text x="362.1" y="194.3" font-size="15" text-anchor="middle" font-family="'Liberation Serif', 'Times New Roman', serif" font-weight="bold">4</text>
<text x="371.9" y="68.8" font-size="15" text-anchor="middle" font-family="'Liberation Serif', 'Times New Roman', serif" font-weight="bold">5</text>
<text x="399.0" y="214.4" font-size="15" text-anchor="middle" font-family="'Liberation Serif', 'Times New Roman', serif" font-weight="bold">6</text>
<text x="405.2" y="202.2" font-size="15" text-anchor="middle" font-family="'Liberation Serif', 'Times New Roman', serif" font-weight="bold">7</text>
<text x="412.9" y="192.0" font-size="15" text-anchor="middle" font-family="'Liberation Serif', 'Times New Roman', serif" font-weight="bold">8</text>
<text x="420.2" y="144.6" font-size="15" text-anchor="middle" font-family="'Liberation Serif', 'Times New Roman', serif" font-weight="bold">9</text>
<text x="428.6" y="156.6" font-size="15" text-anchor="middle" font-family="'Liberation Serif', 'Times New Roman', serif" font-weight="bold">10</text>
<text x="438.8" y="193.8" font-size="15" text-anchor="middle" font-family="'Liberation Serif', 'Times New Roman', serif" font-weight="bold">11</text>
<text x="458.7" y="207.6" font-size="15" text-anchor="middle" font-family="'Liberation Serif', 'Times New Roman', serif" font-weight="bold">12</text>
<text x="472.0" y="216.2" font-size="15" text-anchor="middle" font-family="'Liberation Serif', 'Times New Roman', serif" font-weight="bold">13</text>
<text x="482.4" y="197.3" font-size="15" text-anchor="middle" font-family="'Liberation Serif', 'Times New Roman', serif" font-weight="bold">14</text>
<text x="514.4" y="209.1" font-size="15" text-anchor="middle" font-family="'Liberation Serif', 'Times New Roman', serif" font-weight="bold">15</text>
<text x="538.9" y="188.5" font-size="15" text-anchor="middle" font-family="'Liberation Serif', 'Times New Roman', serif" font-weight="bold">16</text>
<text x="583.9" y="207.8" font-size="15" text-anchor="middle" font-family="'Liberation Serif', 'Times New Roman', serif" font-weight="bold">17</text>
<text x="300.2" y="282.6" font-size="17.3" text-anchor="middle" stroke="#000" stroke-width="0.2" font-family="'Liberation Serif', 'Times New Roman', serif" font-weight="bold">18</text>
<text x="313.3" y="328.1" font-size="17.3" text-anchor="middle" stroke="#000" stroke-width="0.2" font-family="'Liberation Serif', 'Times New Roman', serif" font-weight="bold">19</text>
<text x="337.2" y="358.3" font-size="17.3" text-anchor="middle" stroke="#000" stroke-width="0.2" font-family="'Liberation Serif', 'Times New Roman', serif" font-weight="bold">20</text>
<text x="362.1" y="357.6" font-size="17.3" text-anchor="middle" stroke="#000" stroke-width="0.2" font-family="'Liberation Serif', 'Times New Roman', serif" font-weight="bold">21</text>
<text x="382.2" y="282.6" font-size="17.3" text-anchor="middle" stroke="#000" stroke-width="0.2" font-family="'Liberation Serif', 'Times New Roman', serif" font-weight="bold">22</text>
<text x="491.2" y="372.1" font-size="17.3" text-anchor="middle" stroke="#000" stroke-width="0.2" font-family="'Liberation Serif', 'Times New Roman', serif" font-weight="bold">23</text>
<text x="661.3" y="341.4" font-size="17.3" text-anchor="middle" stroke="#000" stroke-width="0.2" font-family="'Liberation Serif', 'Times New Roman', serif" font-weight="bold">24</text>
<line x1="125.3" y1="314.6" x2="279.80" y2="235.55" stroke="#000" stroke-width="0.9"/><polygon points="288.70,231.00 280.41,238.95 277.40,233.07" fill="#000"/>
<line x1="300.5" y1="334" x2="300.50" y2="294.20" stroke="#000" stroke-width="1"/><polygon points="300.50,283.20 303.90,295.20 297.10,295.20" fill="#000"/>
<line x1="303.8" y1="356.9" x2="306.67" y2="342.23" stroke="#000" stroke-width="0.9"/><polygon points="308.40,333.40 309.23,343.75 303.73,342.68" fill="#000"/>
<line x1="380.5" y1="366.3" x2="380.50" y2="297.30" stroke="#000" stroke-width="1"/><polygon points="380.50,286.30 383.70,298.30 377.30,298.30" fill="#000"/>
</svg>
</body></html>
